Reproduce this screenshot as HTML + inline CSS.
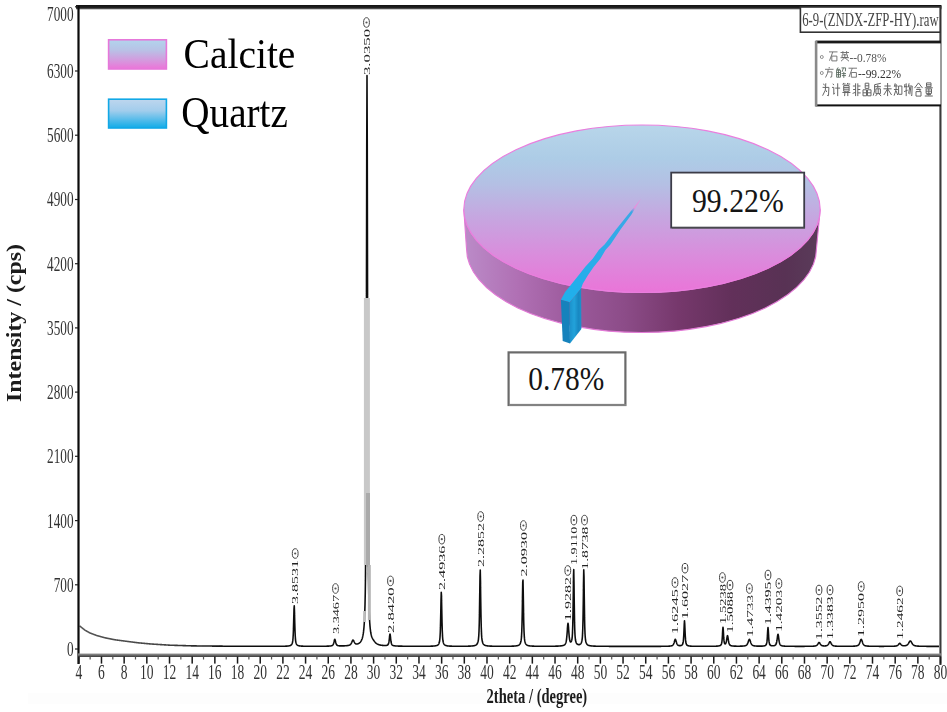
<!DOCTYPE html>
<html><head><meta charset="utf-8"><style>
html,body{margin:0;padding:0;background:#fff;}
svg{display:block;}
</style></head><body>
<svg width="947" height="712" viewBox="0 0 947 712">
<defs>
<linearGradient id="gTop" x1="0" y1="125" x2="0" y2="293" gradientUnits="userSpaceOnUse">
 <stop offset="0" stop-color="#b8d6ea"/>
 <stop offset="0.2" stop-color="#adcce6"/>
 <stop offset="0.35" stop-color="#b4c0e4"/>
 <stop offset="0.55" stop-color="#c6a6e0"/>
 <stop offset="0.78" stop-color="#da8cdc"/>
 <stop offset="1" stop-color="#ea74d8"/>
</linearGradient>
<linearGradient id="gWall" x1="464" y1="0" x2="821" y2="0" gradientUnits="userSpaceOnUse">
 <stop offset="0" stop-color="#bb8bc8"/>
 <stop offset="0.15" stop-color="#b070b4"/>
 <stop offset="0.3" stop-color="#9c5a9c"/>
 <stop offset="0.45" stop-color="#8c4c88"/>
 <stop offset="0.6" stop-color="#76386c"/>
 <stop offset="0.75" stop-color="#62305a"/>
 <stop offset="0.9" stop-color="#583254"/>
 <stop offset="1" stop-color="#5a3c5a"/>
</linearGradient>
<linearGradient id="gCal" x1="0" y1="0" x2="0" y2="1">
 <stop offset="0" stop-color="#b2d4ec"/>
 <stop offset="0.35" stop-color="#b8c2e6"/>
 <stop offset="0.7" stop-color="#d49ade"/>
 <stop offset="1" stop-color="#ec74d8"/>
</linearGradient>
<linearGradient id="gQua" x1="0" y1="0" x2="0" y2="1">
 <stop offset="0" stop-color="#bed6ee"/>
 <stop offset="0.4" stop-color="#a2cdec"/>
 <stop offset="1" stop-color="#10ace8"/>
</linearGradient>
<filter id="bl" x="-5%" y="-5%" width="110%" height="110%"><feGaussianBlur stdDeviation="0.45"/></filter>
<filter id="tb" x="-5%" y="-5%" width="110%" height="110%"><feGaussianBlur stdDeviation="0.6"/></filter>
<filter id="bl2" x="-5%" y="-5%" width="110%" height="110%"><feGaussianBlur stdDeviation="0.3"/></filter>
</defs>
<rect width="947" height="712" fill="#fff"/>
<rect x="28" y="693" width="919" height="11" fill="#fdfdfd"/>
<linearGradient id="gTr" x1="79" y1="0" x2="940" y2="0" gradientUnits="userSpaceOnUse"><stop offset="0" stop-color="#555"/><stop offset="0.1" stop-color="#444"/><stop offset="0.17" stop-color="#111"/><stop offset="1" stop-color="#111"/></linearGradient>
<path d="M79.50,625.80 L79.75,626.00 L80.00,626.20 L80.25,626.40 L80.50,626.60 L80.75,626.80 L81.00,627.00 L81.25,627.20 L81.50,627.40 L81.75,627.60 L82.00,627.80 L82.25,628.00 L82.50,628.20 L82.75,628.40 L83.00,628.60 L83.25,628.80 L83.50,629.00 L83.75,629.20 L84.00,629.40 L84.25,629.60 L84.50,629.80 L84.75,630.00 L85.00,630.20 L85.25,630.34 L85.50,630.48 L85.75,630.62 L86.00,630.76 L86.25,630.90 L86.50,631.04 L86.75,631.18 L87.00,631.32 L87.25,631.46 L87.50,631.60 L87.75,631.74 L88.00,631.88 L88.25,632.02 L88.50,632.16 L88.75,632.30 L89.00,632.44 L89.25,632.58 L89.50,632.72 L89.75,632.86 L90.00,633.00 L90.25,633.09 L90.50,633.18 L90.75,633.27 L91.00,633.37 L91.25,633.46 L91.50,633.55 L91.75,633.65 L92.00,633.74 L92.25,633.83 L92.50,633.92 L92.75,634.02 L93.00,634.11 L93.25,634.20 L93.50,634.30 L93.75,634.39 L94.00,634.48 L94.25,634.57 L94.50,634.67 L94.75,634.76 L95.00,634.85 L95.25,634.95 L95.50,635.04 L95.75,635.13 L96.00,635.22 L96.25,635.32 L96.50,635.41 L96.75,635.50 L97.00,635.60 L97.25,635.66 L97.50,635.73 L97.75,635.80 L98.00,635.87 L98.25,635.94 L98.50,636.01 L98.75,636.08 L99.00,636.15 L99.25,636.21 L99.50,636.28 L99.75,636.35 L100.00,636.42 L100.25,636.49 L100.50,636.56 L100.75,636.63 L101.00,636.70 L101.25,636.76 L101.50,636.83 L101.75,636.90 L102.00,636.97 L102.25,637.04 L102.50,637.11 L102.75,637.18 L103.00,637.25 L103.25,637.31 L103.50,637.38 L103.75,637.45 L104.00,637.52 L104.25,637.59 L104.50,637.66 L104.75,637.73 L105.00,637.80 L105.25,637.85 L105.50,637.90 L105.75,637.95 L106.00,638.00 L106.25,638.05 L106.50,638.10 L106.75,638.15 L107.00,638.20 L107.25,638.25 L107.50,638.30 L107.75,638.35 L108.00,638.40 L108.25,638.45 L108.50,638.50 L108.75,638.55 L109.00,638.60 L109.25,638.65 L109.50,638.70 L109.75,638.75 L110.00,638.80 L110.25,638.85 L110.50,638.90 L110.75,638.95 L111.00,639.00 L111.25,639.05 L111.50,639.10 L111.75,639.15 L112.00,639.20 L112.25,639.25 L112.50,639.30 L112.75,639.35 L113.00,639.40 L113.25,639.45 L113.50,639.50 L113.75,639.55 L114.00,639.60 L114.25,639.65 L114.50,639.70 L114.75,639.75 L115.00,639.80 L115.25,639.83 L115.50,639.86 L115.75,639.89 L116.00,639.93 L116.25,639.96 L116.50,639.99 L116.75,640.02 L117.00,640.06 L117.25,640.09 L117.50,640.12 L117.75,640.15 L118.00,640.19 L118.25,640.22 L118.50,640.25 L118.75,640.29 L119.00,640.32 L119.25,640.35 L119.50,640.38 L119.75,640.42 L120.00,640.45 L120.25,640.48 L120.50,640.51 L120.75,640.55 L121.00,640.58 L121.25,640.61 L121.50,640.65 L121.75,640.68 L122.00,640.71 L122.25,640.74 L122.50,640.78 L122.75,640.81 L123.00,640.84 L123.25,640.87 L123.50,640.91 L123.75,640.94 L124.00,640.97 L124.25,641.01 L124.50,641.04 L124.75,641.07 L125.00,641.10 L125.25,641.14 L125.50,641.17 L125.75,641.20 L126.00,641.23 L126.25,641.27 L126.50,641.30 L126.75,641.33 L127.00,641.36 L127.25,641.40 L127.50,641.43 L127.75,641.46 L128.00,641.49 L128.25,641.53 L128.50,641.56 L128.75,641.59 L129.00,641.62 L129.25,641.66 L129.50,641.69 L129.75,641.72 L130.00,641.75 L130.25,641.79 L130.50,641.82 L130.75,641.85 L131.00,641.88 L131.25,641.92 L131.50,641.95 L131.75,641.98 L132.00,642.01 L132.25,642.05 L132.50,642.08 L132.75,642.11 L133.00,642.14 L133.25,642.18 L133.50,642.21 L133.75,642.24 L134.00,642.27 L134.25,642.31 L134.50,642.34 L134.75,642.37 L135.00,642.40 L135.25,642.44 L135.50,642.47 L135.75,642.50 L136.00,642.53 L136.25,642.57 L136.50,642.60 L136.75,642.63 L137.00,642.66 L137.25,642.70 L137.50,642.73 L137.75,642.76 L138.00,642.79 L138.25,642.82 L138.50,642.84 L138.75,642.86 L139.00,642.89 L139.25,642.91 L139.50,642.93 L139.75,642.96 L140.00,642.98 L140.25,643.00 L140.50,643.02 L140.75,643.05 L141.00,643.07 L141.25,643.09 L141.50,643.12 L141.75,643.14 L142.00,643.16 L142.25,643.19 L142.50,643.21 L142.75,643.23 L143.00,643.26 L143.25,643.28 L143.50,643.30 L143.75,643.32 L144.00,643.35 L144.25,643.37 L144.50,643.39 L144.75,643.42 L145.00,643.44 L145.25,643.46 L145.50,643.49 L145.75,643.51 L146.00,643.53 L146.25,643.56 L146.50,643.58 L146.75,643.60 L147.00,643.62 L147.25,643.65 L147.50,643.67 L147.75,643.69 L148.00,643.72 L148.25,643.74 L148.50,643.76 L148.75,643.79 L149.00,643.81 L149.25,643.83 L149.50,643.86 L149.75,643.88 L150.00,643.90 L150.25,643.92 L150.50,643.95 L150.75,643.97 L151.00,643.99 L151.25,644.01 L151.50,644.03 L151.75,644.04 L152.00,644.06 L152.25,644.07 L152.50,644.09 L152.75,644.10 L153.00,644.12 L153.25,644.14 L153.50,644.15 L153.75,644.17 L154.00,644.18 L154.25,644.20 L154.50,644.21 L154.75,644.23 L155.00,644.25 L155.25,644.26 L155.50,644.28 L155.75,644.29 L156.00,644.31 L156.25,644.32 L156.50,644.34 L156.75,644.36 L157.00,644.37 L157.25,644.39 L157.50,644.40 L157.75,644.42 L158.00,644.44 L158.25,644.45 L158.50,644.47 L158.75,644.48 L159.00,644.50 L159.25,644.51 L159.50,644.53 L159.75,644.55 L160.00,644.56 L160.25,644.58 L160.50,644.59 L160.75,644.61 L161.00,644.62 L161.25,644.64 L161.50,644.66 L161.75,644.67 L162.00,644.69 L162.25,644.70 L162.50,644.72 L162.75,644.73 L163.00,644.75 L163.25,644.77 L163.50,644.78 L163.75,644.80 L164.00,644.81 L164.25,644.83 L164.50,644.85 L164.75,644.86 L165.00,644.88 L165.25,644.89 L165.50,644.91 L165.75,644.92 L166.00,644.94 L166.25,644.96 L166.50,644.97 L166.75,644.99 L167.00,645.00 L167.25,645.02 L167.50,645.03 L167.75,645.05 L168.00,645.07 L168.25,645.08 L168.50,645.10 L168.75,645.11 L169.00,645.13 L169.25,645.14 L169.50,645.16 L169.75,645.18 L170.00,645.19 L170.25,645.20 L170.50,645.21 L170.75,645.22 L171.00,645.22 L171.25,645.23 L171.50,645.24 L171.75,645.25 L172.00,645.25 L172.25,645.26 L172.50,645.27 L172.75,645.28 L173.00,645.28 L173.25,645.29 L173.50,645.30 L173.75,645.31 L174.00,645.31 L174.25,645.32 L174.50,645.33 L174.75,645.34 L175.00,645.34 L175.25,645.35 L175.50,645.36 L175.75,645.37 L176.00,645.37 L176.25,645.38 L176.50,645.39 L176.75,645.40 L177.00,645.40 L177.25,645.41 L177.50,645.42 L177.75,645.43 L178.00,645.44 L178.25,645.44 L178.50,645.45 L178.75,645.46 L179.00,645.47 L179.25,645.47 L179.50,645.48 L179.75,645.49 L180.00,645.50 L180.25,645.50 L180.50,645.51 L180.75,645.52 L181.00,645.53 L181.25,645.53 L181.50,645.54 L181.75,645.55 L182.00,645.56 L182.25,645.56 L182.50,645.57 L182.75,645.58 L183.00,645.59 L183.25,645.59 L183.50,645.60 L183.75,645.61 L184.00,645.62 L184.25,645.62 L184.50,645.63 L184.75,645.64 L185.00,645.65 L185.25,645.66 L185.50,645.66 L185.75,645.67 L186.00,645.68 L186.25,645.69 L186.50,645.69 L186.75,645.70 L187.00,645.71 L187.25,645.72 L187.50,645.72 L187.75,645.73 L188.00,645.74 L188.25,645.75 L188.50,645.75 L188.75,645.76 L189.00,645.77 L189.25,645.78 L189.50,645.78 L189.75,645.79 L190.00,645.80 L190.25,645.81 L190.50,645.81 L190.75,645.82 L191.00,645.83 L191.25,645.84 L191.50,645.84 L191.75,645.85 L192.00,645.86 L192.25,645.87 L192.50,645.87 L192.75,645.88 L193.00,645.89 L193.25,645.89 L193.50,645.89 L193.75,645.90 L194.00,645.90 L194.25,645.90 L194.50,645.90 L194.75,645.91 L195.00,645.91 L195.25,645.91 L195.50,645.91 L195.75,645.92 L196.00,645.92 L196.25,645.92 L196.50,645.92 L196.75,645.93 L197.00,645.93 L197.25,645.93 L197.50,645.93 L197.75,645.94 L198.00,645.94 L198.25,645.94 L198.50,645.94 L198.75,645.95 L199.00,645.95 L199.25,645.95 L199.50,645.95 L199.75,645.96 L200.00,645.96 L200.25,645.96 L200.50,645.96 L200.75,645.96 L201.00,645.97 L201.25,645.97 L201.50,645.97 L201.75,645.97 L202.00,645.98 L202.25,645.98 L202.50,645.98 L202.75,645.98 L203.00,645.99 L203.25,645.99 L203.50,645.99 L203.75,645.99 L204.00,646.00 L204.25,646.00 L204.50,646.00 L204.75,646.00 L205.00,646.01 L205.25,646.01 L205.50,646.01 L205.75,646.01 L206.00,646.02 L206.25,646.02 L206.50,646.02 L206.75,646.02 L207.00,646.02 L207.25,646.03 L207.50,646.03 L207.75,646.03 L208.00,646.03 L208.25,646.04 L208.50,646.04 L208.75,646.04 L209.00,646.04 L209.25,646.05 L209.50,646.05 L209.75,646.05 L210.00,646.05 L210.25,646.06 L210.50,646.06 L210.75,646.06 L211.00,646.06 L211.25,646.07 L211.50,646.07 L211.75,646.07 L212.00,646.07 L212.25,646.08 L212.50,646.08 L212.75,646.08 L213.00,646.08 L213.25,646.08 L213.50,646.09 L213.75,646.09 L214.00,646.09 L214.25,646.09 L214.50,646.10 L214.75,646.10 L215.00,646.10 L215.25,646.10 L215.50,646.11 L215.75,646.11 L216.00,646.11 L216.25,646.11 L216.50,646.12 L216.75,646.12 L217.00,646.12 L217.25,646.12 L217.50,646.13 L217.75,646.13 L218.00,646.13 L218.25,646.13 L218.50,646.13 L218.75,646.14 L219.00,646.14 L219.25,646.14 L219.50,646.14 L219.75,646.15 L220.00,646.15 L220.25,646.15 L220.50,646.15 L220.75,646.16 L221.00,646.16 L221.25,646.16 L221.50,646.16 L221.75,646.17 L222.00,646.17 L222.25,646.17 L222.50,646.17 L222.75,646.18 L223.00,646.18 L223.25,646.18 L223.50,646.18 L223.75,646.19 L224.00,646.19 L224.25,646.19 L224.50,646.19 L224.75,646.19 L225.00,646.20 L225.25,646.20 L225.50,646.20 L225.75,646.20 L226.00,646.21 L226.25,646.21 L226.50,646.21 L226.75,646.21 L227.00,646.22 L227.25,646.22 L227.50,646.22 L227.75,646.22 L228.00,646.23 L228.25,646.23 L228.50,646.23 L228.75,646.23 L229.00,646.23 L229.25,646.24 L229.50,646.24 L229.75,646.24 L230.00,646.24 L230.25,646.25 L230.50,646.25 L230.75,646.25 L231.00,646.25 L231.25,646.26 L231.50,646.26 L231.75,646.26 L232.00,646.26 L232.25,646.27 L232.50,646.27 L232.75,646.27 L233.00,646.27 L233.25,646.28 L233.50,646.28 L233.75,646.28 L234.00,646.28 L234.25,646.28 L234.50,646.28 L234.75,646.28 L235.00,646.28 L235.25,646.28 L235.50,646.28 L235.75,646.28 L236.00,646.28 L236.25,646.28 L236.50,646.29 L236.75,646.29 L237.00,646.29 L237.25,646.29 L237.50,646.29 L237.75,646.29 L238.00,646.29 L238.25,646.29 L238.50,646.29 L238.75,646.29 L239.00,646.29 L239.25,646.29 L239.50,646.29 L239.75,646.29 L240.00,646.29 L240.25,646.29 L240.50,646.29 L240.75,646.29 L241.00,646.29 L241.25,646.29 L241.50,646.29 L241.75,646.29 L242.00,646.29 L242.25,646.29 L242.50,646.29 L242.75,646.29 L243.00,646.29 L243.25,646.29 L243.50,646.29 L243.75,646.29 L244.00,646.29 L244.25,646.29 L244.50,646.29 L244.75,646.29 L245.00,646.29 L245.25,646.29 L245.50,646.30 L245.75,646.30 L246.00,646.30 L246.25,646.30 L246.50,646.30 L246.75,646.30 L247.00,646.30 L247.25,646.30 L247.50,646.30 L247.75,646.30 L248.00,646.30 L248.25,646.30 L248.50,646.30 L248.75,646.30 L249.00,646.30 L249.25,646.30 L249.50,646.30 L249.75,646.30 L250.00,646.30 L250.25,646.30 L250.50,646.30 L250.75,646.30 L251.00,646.30 L251.25,646.30 L251.50,646.30 L251.75,646.30 L252.00,646.30 L252.25,646.30 L252.50,646.30 L252.75,646.30 L253.00,646.30 L253.25,646.30 L253.50,646.30 L253.75,646.30 L254.00,646.30 L254.25,646.30 L254.50,646.30 L254.75,646.30 L255.00,646.30 L255.25,646.30 L255.50,646.30 L255.75,646.30 L256.00,646.30 L256.25,646.30 L256.50,646.30 L256.75,646.30 L257.00,646.31 L257.25,646.31 L257.50,646.31 L257.75,646.31 L258.00,646.31 L258.25,646.31 L258.50,646.31 L258.75,646.31 L259.00,646.31 L259.25,646.31 L259.50,646.31 L259.75,646.31 L260.00,646.31 L260.25,646.31 L260.50,646.31 L260.75,646.31 L261.00,646.31 L261.25,646.31 L261.50,646.31 L261.75,646.31 L262.00,646.31 L262.25,646.31 L262.50,646.31 L262.75,646.31 L263.00,646.31 L263.25,646.31 L263.50,646.31 L263.75,646.31 L264.00,646.31 L264.25,646.31 L264.50,646.31 L264.75,646.31 L265.00,646.31 L265.25,646.31 L265.50,646.31 L265.75,646.31 L266.00,646.31 L266.25,646.31 L266.50,646.31 L266.75,646.31 L267.00,646.31 L267.25,646.31 L267.50,646.31 L267.75,646.31 L268.00,646.31 L268.25,646.31 L268.50,646.31 L268.75,646.31 L269.00,646.31 L269.25,646.31 L269.50,646.31 L269.75,646.31 L270.00,646.31 L270.25,646.31 L270.50,646.31 L270.75,646.31 L271.00,646.31 L271.25,646.31 L271.50,646.31 L271.75,646.30 L272.00,646.30 L272.25,646.30 L272.50,646.30 L272.75,646.30 L273.00,646.30 L273.25,646.30 L273.50,646.30 L273.75,646.30 L274.00,646.30 L274.25,646.30 L274.50,646.30 L274.75,646.30 L275.00,646.30 L275.25,646.30 L275.50,646.30 L275.75,646.30 L276.00,646.30 L276.25,646.29 L276.50,646.29 L276.75,646.29 L277.00,646.29 L277.25,646.29 L277.50,646.29 L277.75,646.29 L278.00,646.29 L278.25,646.29 L278.50,646.28 L278.75,646.28 L279.00,646.28 L279.25,646.28 L279.50,646.28 L279.75,646.28 L280.00,646.27 L280.25,646.27 L280.50,646.27 L280.75,646.27 L281.00,646.26 L281.25,646.26 L281.50,646.26 L281.75,646.26 L282.00,646.25 L282.25,646.25 L282.50,646.25 L282.75,646.24 L283.00,646.24 L283.25,646.23 L283.50,646.23 L283.75,646.22 L284.00,646.22 L284.25,646.21 L284.50,646.20 L284.75,646.20 L285.00,646.19 L285.25,646.18 L285.50,646.17 L285.75,646.16 L286.00,646.15 L286.25,646.14 L286.50,646.13 L286.75,646.11 L287.00,646.10 L287.25,646.08 L287.50,646.06 L287.75,646.04 L288.00,646.01 L288.25,645.98 L288.50,645.95 L288.75,645.92 L289.00,645.87 L289.25,645.83 L289.50,645.77 L289.75,645.71 L290.00,645.63 L290.25,645.54 L290.50,645.43 L290.75,645.30 L291.00,645.14 L291.25,644.93 L291.50,644.67 L291.75,644.34 L292.00,643.89 L292.25,643.27 L292.50,642.36 L292.75,640.92 L293.00,638.46 L293.25,634.30 L293.50,627.66 L293.75,618.42 L294.00,608.94 L294.25,605.88 L294.50,612.41 L294.75,622.37 L295.00,630.65 L295.25,636.22 L295.50,639.61 L295.75,641.58 L296.00,642.78 L296.25,643.55 L296.50,644.09 L296.75,644.48 L297.00,644.79 L297.25,645.02 L297.50,645.21 L297.75,645.36 L298.00,645.48 L298.25,645.58 L298.50,645.66 L298.75,645.74 L299.00,645.80 L299.25,645.85 L299.50,645.89 L299.75,645.93 L300.00,645.97 L300.25,646.00 L300.50,646.02 L300.75,646.05 L301.00,646.07 L301.25,646.09 L301.50,646.10 L301.75,646.12 L302.00,646.13 L302.25,646.14 L302.50,646.16 L302.75,646.17 L303.00,646.17 L303.25,646.18 L303.50,646.19 L303.75,646.20 L304.00,646.20 L304.25,646.21 L304.50,646.22 L304.75,646.22 L305.00,646.23 L305.25,646.23 L305.50,646.23 L305.75,646.24 L306.00,646.24 L306.25,646.24 L306.50,646.25 L306.75,646.25 L307.00,646.25 L307.25,646.26 L307.50,646.26 L307.75,646.26 L308.00,646.26 L308.25,646.26 L308.50,646.26 L308.75,646.27 L309.00,646.27 L309.25,646.27 L309.50,646.27 L309.75,646.27 L310.00,646.27 L310.25,646.27 L310.50,646.27 L310.75,646.27 L311.00,646.27 L311.25,646.27 L311.50,646.28 L311.75,646.28 L312.00,646.28 L312.25,646.28 L312.50,646.28 L312.75,646.28 L313.00,646.28 L313.25,646.28 L313.50,646.28 L313.75,646.28 L314.00,646.28 L314.25,646.28 L314.50,646.28 L314.75,646.28 L315.00,646.27 L315.25,646.27 L315.50,646.27 L315.75,646.27 L316.00,646.27 L316.25,646.27 L316.50,646.27 L316.75,646.27 L317.00,646.27 L317.25,646.27 L317.50,646.27 L317.75,646.27 L318.00,646.27 L318.25,646.27 L318.50,646.26 L318.75,646.26 L319.00,646.26 L319.25,646.26 L319.50,646.26 L319.75,646.26 L320.00,646.26 L320.25,646.26 L320.50,646.25 L320.75,646.25 L321.00,646.25 L321.25,646.25 L321.50,646.25 L321.75,646.24 L322.00,646.24 L322.25,646.24 L322.50,646.24 L322.75,646.24 L323.00,646.23 L323.25,646.23 L323.50,646.23 L323.75,646.22 L324.00,646.22 L324.25,646.22 L324.50,646.21 L324.75,646.21 L325.00,646.21 L325.25,646.20 L325.50,646.20 L325.75,646.19 L326.00,646.19 L326.25,646.18 L326.50,646.18 L326.75,646.17 L327.00,646.17 L327.25,646.16 L327.50,646.15 L327.75,646.14 L328.00,646.13 L328.25,646.12 L328.50,646.11 L328.75,646.10 L329.00,646.09 L329.25,646.07 L329.50,646.05 L329.75,646.03 L330.00,646.01 L330.25,645.99 L330.50,645.96 L330.75,645.92 L331.00,645.88 L331.25,645.83 L331.50,645.78 L331.75,645.71 L332.00,645.62 L332.25,645.50 L332.50,645.34 L332.75,645.11 L333.00,644.79 L333.25,644.35 L333.50,643.73 L333.75,642.92 L334.00,641.92 L334.25,640.81 L334.50,639.81 L334.75,639.29 L335.00,639.52 L335.25,640.37 L335.50,641.46 L335.75,642.52 L336.00,643.40 L336.25,644.08 L336.50,644.58 L336.75,644.94 L337.00,645.19 L337.25,645.37 L337.50,645.49 L337.75,645.59 L338.00,645.66 L338.25,645.71 L338.50,645.76 L338.75,645.79 L339.00,645.82 L339.25,645.84 L339.50,645.86 L339.75,645.88 L340.00,645.89 L340.25,645.90 L340.50,645.90 L340.75,645.91 L341.00,645.91 L341.25,645.91 L341.50,645.91 L341.75,645.91 L342.00,645.91 L342.25,645.91 L342.50,645.90 L342.75,645.90 L343.00,645.89 L343.25,645.89 L343.50,645.88 L343.75,645.87 L344.00,645.86 L344.25,645.85 L344.50,645.84 L344.75,645.82 L345.00,645.81 L345.25,645.79 L345.50,645.78 L345.75,645.76 L346.00,645.74 L346.25,645.72 L346.50,645.69 L346.75,645.67 L347.00,645.64 L347.25,645.61 L347.50,645.58 L347.75,645.54 L348.00,645.50 L348.25,645.45 L348.50,645.40 L348.75,645.34 L349.00,645.27 L349.25,645.19 L349.50,645.09 L349.75,644.97 L350.00,644.82 L350.25,644.63 L350.50,644.41 L350.75,644.12 L351.00,643.78 L351.25,643.37 L351.50,642.89 L351.75,642.34 L352.00,641.74 L352.25,641.13 L352.50,640.58 L352.75,640.18 L353.00,640.02 L353.25,640.12 L353.50,640.45 L353.75,640.93 L354.00,641.47 L354.25,642.00 L354.50,642.48 L354.75,642.89 L355.00,643.23 L355.25,643.49 L355.50,643.70 L355.75,643.84 L356.00,643.94 L356.25,644.00 L356.50,644.03 L356.75,644.03 L357.00,644.01 L357.25,643.97 L357.50,643.92 L357.75,643.85 L358.00,643.76 L358.25,643.66 L358.50,643.54 L358.75,643.41 L359.00,643.26 L359.25,643.09 L359.50,642.91 L359.75,642.70 L360.00,642.46 L360.25,642.20 L360.50,641.90 L360.75,641.56 L361.00,641.18 L361.25,640.75 L361.50,640.26 L361.75,639.70 L362.00,639.05 L362.25,638.29 L362.50,637.41 L362.75,636.38 L363.00,635.15 L363.25,633.68 L363.50,631.89 L363.75,629.69 L364.00,626.96 L364.25,623.50 L364.50,619.04 L364.75,613.14 L365.00,605.04 L365.25,593.30 L365.50,574.91 L365.75,544.04 L366.00,491.36 L366.25,405.88 L366.50,282.64 L366.75,144.63 L367.00,75.58 L367.25,144.58 L367.50,282.53 L367.75,405.72 L368.00,491.13 L368.25,543.75 L368.50,574.55 L368.75,592.88 L369.00,604.55 L369.25,612.56 L369.50,618.37 L369.75,622.75 L370.00,626.11 L370.25,628.74 L370.50,630.82 L370.75,632.50 L371.00,633.86 L371.25,634.97 L371.50,635.90 L371.75,636.67 L372.00,637.33 L372.25,637.90 L372.50,638.40 L372.75,638.86 L373.00,639.28 L373.25,639.68 L373.50,640.06 L373.75,640.43 L374.00,640.78 L374.25,641.12 L374.50,641.45 L374.75,641.76 L375.00,642.06 L375.25,642.34 L375.50,642.60 L375.75,642.84 L376.00,643.07 L376.25,643.28 L376.50,643.47 L376.75,643.65 L377.00,643.82 L377.25,643.97 L377.50,644.11 L377.75,644.23 L378.00,644.35 L378.25,644.46 L378.50,644.55 L378.75,644.64 L379.00,644.73 L379.25,644.80 L379.50,644.87 L379.75,644.93 L380.00,644.99 L380.25,645.05 L380.50,645.10 L380.75,645.14 L381.00,645.19 L381.25,645.22 L381.50,645.26 L381.75,645.29 L382.00,645.33 L382.25,645.35 L382.50,645.38 L382.75,645.40 L383.00,645.42 L383.25,645.44 L383.50,645.46 L383.75,645.47 L384.00,645.48 L384.25,645.49 L384.50,645.50 L384.75,645.50 L385.00,645.50 L385.25,645.50 L385.50,645.49 L385.75,645.47 L386.00,645.45 L386.25,645.42 L386.50,645.38 L386.75,645.33 L387.00,645.26 L387.25,645.17 L387.50,645.04 L387.75,644.87 L388.00,644.63 L388.25,644.25 L388.50,643.67 L388.75,642.77 L389.00,641.42 L389.25,639.54 L389.50,637.21 L389.75,634.98 L390.00,633.99 L390.25,634.99 L390.50,637.24 L390.75,639.59 L391.00,641.49 L391.25,642.86 L391.50,643.78 L391.75,644.38 L392.00,644.77 L392.25,645.03 L392.50,645.22 L392.75,645.37 L393.00,645.48 L393.25,645.57 L393.50,645.64 L393.75,645.70 L394.00,645.75 L394.25,645.79 L394.50,645.83 L394.75,645.86 L395.00,645.89 L395.25,645.92 L395.50,645.94 L395.75,645.96 L396.00,645.98 L396.25,645.99 L396.50,646.01 L396.75,646.02 L397.00,646.04 L397.25,646.05 L397.50,646.06 L397.75,646.07 L398.00,646.08 L398.25,646.09 L398.50,646.09 L398.75,646.10 L399.00,646.11 L399.25,646.12 L399.50,646.12 L399.75,646.13 L400.00,646.13 L400.25,646.14 L400.50,646.14 L400.75,646.15 L401.00,646.15 L401.25,646.16 L401.50,646.16 L401.75,646.17 L402.00,646.17 L402.25,646.17 L402.50,646.18 L402.75,646.18 L403.00,646.19 L403.25,646.19 L403.50,646.19 L403.75,646.19 L404.00,646.20 L404.25,646.20 L404.50,646.20 L404.75,646.21 L405.00,646.21 L405.25,646.21 L405.50,646.21 L405.75,646.22 L406.00,646.22 L406.25,646.22 L406.50,646.22 L406.75,646.22 L407.00,646.23 L407.25,646.23 L407.50,646.23 L407.75,646.23 L408.00,646.23 L408.25,646.24 L408.50,646.24 L408.75,646.24 L409.00,646.24 L409.25,646.24 L409.50,646.24 L409.75,646.24 L410.00,646.25 L410.25,646.25 L410.50,646.25 L410.75,646.25 L411.00,646.25 L411.25,646.25 L411.50,646.25 L411.75,646.25 L412.00,646.26 L412.25,646.26 L412.50,646.26 L412.75,646.26 L413.00,646.26 L413.25,646.26 L413.50,646.26 L413.75,646.26 L414.00,646.26 L414.25,646.26 L414.50,646.26 L414.75,646.26 L415.00,646.26 L415.25,646.27 L415.50,646.27 L415.75,646.27 L416.00,646.27 L416.25,646.27 L416.50,646.27 L416.75,646.27 L417.00,646.27 L417.25,646.27 L417.50,646.27 L417.75,646.27 L418.00,646.27 L418.25,646.27 L418.50,646.27 L418.75,646.27 L419.00,646.27 L419.25,646.27 L419.50,646.27 L419.75,646.27 L420.00,646.27 L420.25,646.27 L420.50,646.27 L420.75,646.27 L421.00,646.27 L421.25,646.27 L421.50,646.27 L421.75,646.27 L422.00,646.27 L422.25,646.27 L422.50,646.27 L422.75,646.26 L423.00,646.26 L423.25,646.26 L423.50,646.26 L423.75,646.26 L424.00,646.26 L424.25,646.26 L424.50,646.26 L424.75,646.26 L425.00,646.25 L425.25,646.25 L425.50,646.25 L425.75,646.25 L426.00,646.25 L426.25,646.25 L426.50,646.24 L426.75,646.24 L427.00,646.24 L427.25,646.24 L427.50,646.23 L427.75,646.23 L428.00,646.23 L428.25,646.22 L428.50,646.22 L428.75,646.22 L429.00,646.21 L429.25,646.21 L429.50,646.20 L429.75,646.20 L430.00,646.19 L430.25,646.19 L430.50,646.18 L430.75,646.17 L431.00,646.17 L431.25,646.16 L431.50,646.15 L431.75,646.14 L432.00,646.13 L432.25,646.12 L432.50,646.11 L432.75,646.10 L433.00,646.08 L433.25,646.07 L433.50,646.05 L433.75,646.03 L434.00,646.01 L434.25,645.99 L434.50,645.96 L434.75,645.94 L435.00,645.90 L435.25,645.87 L435.50,645.83 L435.75,645.78 L436.00,645.73 L436.25,645.67 L436.50,645.60 L436.75,645.52 L437.00,645.42 L437.25,645.31 L437.50,645.18 L437.75,645.01 L438.00,644.81 L438.25,644.56 L438.50,644.25 L438.75,643.85 L439.00,643.32 L439.25,642.59 L439.50,641.56 L439.75,639.97 L440.00,637.33 L440.25,632.80 L440.50,625.35 L440.75,614.28 L441.00,600.97 L441.25,592.23 L441.50,596.33 L441.75,609.00 L442.00,621.36 L442.25,630.23 L442.50,635.80 L442.75,639.08 L443.00,641.01 L443.25,642.23 L443.50,643.06 L443.75,643.65 L444.00,644.10 L444.25,644.45 L444.50,644.72 L444.75,644.94 L445.00,645.11 L445.25,645.26 L445.50,645.38 L445.75,645.48 L446.00,645.57 L446.25,645.64 L446.50,645.71 L446.75,645.76 L447.00,645.81 L447.25,645.85 L447.50,645.89 L447.75,645.92 L448.00,645.95 L448.25,645.98 L448.50,646.00 L448.75,646.03 L449.00,646.04 L449.25,646.06 L449.50,646.08 L449.75,646.09 L450.00,646.11 L450.25,646.12 L450.50,646.13 L450.75,646.14 L451.00,646.15 L451.25,646.16 L451.50,646.17 L451.75,646.17 L452.00,646.18 L452.25,646.19 L452.50,646.19 L452.75,646.20 L453.00,646.20 L453.25,646.21 L453.50,646.21 L453.75,646.22 L454.00,646.22 L454.25,646.22 L454.50,646.23 L454.75,646.23 L455.00,646.23 L455.25,646.23 L455.50,646.24 L455.75,646.24 L456.00,646.24 L456.25,646.24 L456.50,646.24 L456.75,646.25 L457.00,646.25 L457.25,646.25 L457.50,646.25 L457.75,646.25 L458.00,646.25 L458.25,646.25 L458.50,646.25 L458.75,646.25 L459.00,646.25 L459.25,646.25 L459.50,646.25 L459.75,646.25 L460.00,646.25 L460.25,646.25 L460.50,646.25 L460.75,646.25 L461.00,646.25 L461.25,646.25 L461.50,646.25 L461.75,646.25 L462.00,646.25 L462.25,646.25 L462.50,646.25 L462.75,646.25 L463.00,646.25 L463.25,646.24 L463.50,646.24 L463.75,646.24 L464.00,646.24 L464.25,646.24 L464.50,646.23 L464.75,646.23 L465.00,646.23 L465.25,646.23 L465.50,646.22 L465.75,646.22 L466.00,646.22 L466.25,646.21 L466.50,646.21 L466.75,646.20 L467.00,646.20 L467.25,646.19 L467.50,646.19 L467.75,646.18 L468.00,646.18 L468.25,646.17 L468.50,646.16 L468.75,646.16 L469.00,646.15 L469.25,646.14 L469.50,646.13 L469.75,646.12 L470.00,646.11 L470.25,646.10 L470.50,646.09 L470.75,646.07 L471.00,646.06 L471.25,646.04 L471.50,646.03 L471.75,646.01 L472.00,645.99 L472.25,645.97 L472.50,645.94 L472.75,645.91 L473.00,645.88 L473.25,645.85 L473.50,645.81 L473.75,645.77 L474.00,645.72 L474.25,645.67 L474.50,645.61 L474.75,645.54 L475.00,645.46 L475.25,645.37 L475.50,645.27 L475.75,645.15 L476.00,645.00 L476.25,644.83 L476.50,644.63 L476.75,644.38 L477.00,644.07 L477.25,643.69 L477.50,643.20 L477.75,642.57 L478.00,641.73 L478.25,640.56 L478.50,638.85 L478.75,636.12 L479.00,631.50 L479.25,623.65 L479.50,611.13 L479.75,593.71 L480.00,575.84 L480.25,570.07 L480.50,582.39 L480.75,601.16 L481.00,616.77 L481.25,627.27 L481.50,633.65 L481.75,637.38 L482.00,639.62 L482.25,641.08 L482.50,642.09 L482.75,642.84 L483.00,643.41 L483.25,643.85 L483.50,644.20 L483.75,644.49 L484.00,644.72 L484.25,644.91 L484.50,645.07 L484.75,645.20 L485.00,645.32 L485.25,645.41 L485.50,645.50 L485.75,645.57 L486.00,645.64 L486.25,645.69 L486.50,645.75 L486.75,645.79 L487.00,645.83 L487.25,645.87 L487.50,645.90 L487.75,645.93 L488.00,645.95 L488.25,645.98 L488.50,646.00 L488.75,646.02 L489.00,646.04 L489.25,646.05 L489.50,646.07 L489.75,646.08 L490.00,646.10 L490.25,646.11 L490.50,646.12 L490.75,646.13 L491.00,646.14 L491.25,646.15 L491.50,646.16 L491.75,646.17 L492.00,646.17 L492.25,646.18 L492.50,646.19 L492.75,646.19 L493.00,646.20 L493.25,646.20 L493.50,646.21 L493.75,646.21 L494.00,646.22 L494.25,646.22 L494.50,646.22 L494.75,646.23 L495.00,646.23 L495.25,646.23 L495.50,646.24 L495.75,646.24 L496.00,646.24 L496.25,646.25 L496.50,646.25 L496.75,646.25 L497.00,646.25 L497.25,646.25 L497.50,646.26 L497.75,646.26 L498.00,646.26 L498.25,646.26 L498.50,646.26 L498.75,646.26 L499.00,646.26 L499.25,646.27 L499.50,646.27 L499.75,646.27 L500.00,646.27 L500.25,646.27 L500.50,646.27 L500.75,646.27 L501.00,646.27 L501.25,646.27 L501.50,646.27 L501.75,646.27 L502.00,646.27 L502.25,646.27 L502.50,646.27 L502.75,646.27 L503.00,646.27 L503.25,646.27 L503.50,646.27 L503.75,646.27 L504.00,646.27 L504.25,646.27 L504.50,646.27 L504.75,646.27 L505.00,646.26 L505.25,646.26 L505.50,646.26 L505.75,646.26 L506.00,646.26 L506.25,646.26 L506.50,646.26 L506.75,646.25 L507.00,646.25 L507.25,646.25 L507.50,646.25 L507.75,646.25 L508.00,646.24 L508.25,646.24 L508.50,646.24 L508.75,646.23 L509.00,646.23 L509.25,646.23 L509.50,646.22 L509.75,646.22 L510.00,646.21 L510.25,646.21 L510.50,646.20 L510.75,646.20 L511.00,646.19 L511.25,646.19 L511.50,646.18 L511.75,646.17 L512.00,646.17 L512.25,646.16 L512.50,646.15 L512.75,646.14 L513.00,646.13 L513.25,646.12 L513.50,646.11 L513.75,646.09 L514.00,646.08 L514.25,646.06 L514.50,646.05 L514.75,646.03 L515.00,646.01 L515.25,645.98 L515.50,645.96 L515.75,645.93 L516.00,645.90 L516.25,645.87 L516.50,645.83 L516.75,645.79 L517.00,645.74 L517.25,645.69 L517.50,645.63 L517.75,645.55 L518.00,645.47 L518.25,645.38 L518.50,645.27 L518.75,645.13 L519.00,644.98 L519.25,644.79 L519.50,644.56 L519.75,644.28 L520.00,643.92 L520.25,643.47 L520.50,642.88 L520.75,642.09 L521.00,640.99 L521.25,639.34 L521.50,636.67 L521.75,632.12 L522.00,624.46 L522.25,612.50 L522.50,596.51 L522.75,581.83 L523.00,580.10 L523.25,593.15 L523.50,609.56 L523.75,622.44 L524.00,630.89 L524.25,635.94 L524.50,638.90 L524.75,640.71 L525.00,641.90 L525.25,642.74 L525.50,643.36 L525.75,643.84 L526.00,644.21 L526.25,644.51 L526.50,644.75 L526.75,644.94 L527.00,645.11 L527.25,645.24 L527.50,645.36 L527.75,645.45 L528.00,645.54 L528.25,645.61 L528.50,645.67 L528.75,645.73 L529.00,645.78 L529.25,645.82 L529.50,645.86 L529.75,645.90 L530.00,645.93 L530.25,645.95 L530.50,645.98 L530.75,646.00 L531.00,646.02 L531.25,646.04 L531.50,646.06 L531.75,646.07 L532.00,646.09 L532.25,646.10 L532.50,646.11 L532.75,646.13 L533.00,646.14 L533.25,646.15 L533.50,646.15 L533.75,646.16 L534.00,646.17 L534.25,646.18 L534.50,646.18 L534.75,646.19 L535.00,646.20 L535.25,646.20 L535.50,646.21 L535.75,646.21 L536.00,646.22 L536.25,646.22 L536.50,646.22 L536.75,646.23 L537.00,646.23 L537.25,646.23 L537.50,646.24 L537.75,646.24 L538.00,646.24 L538.25,646.24 L538.50,646.25 L538.75,646.25 L539.00,646.25 L539.25,646.25 L539.50,646.26 L539.75,646.26 L540.00,646.26 L540.25,646.26 L540.50,646.26 L540.75,646.26 L541.00,646.26 L541.25,646.26 L541.50,646.26 L541.75,646.27 L542.00,646.27 L542.25,646.27 L542.50,646.27 L542.75,646.27 L543.00,646.27 L543.25,646.27 L543.50,646.27 L543.75,646.27 L544.00,646.27 L544.25,646.27 L544.50,646.27 L544.75,646.27 L545.00,646.27 L545.25,646.27 L545.50,646.27 L545.75,646.27 L546.00,646.27 L546.25,646.27 L546.50,646.27 L546.75,646.27 L547.00,646.26 L547.25,646.26 L547.50,646.26 L547.75,646.26 L548.00,646.26 L548.25,646.26 L548.50,646.26 L548.75,646.26 L549.00,646.26 L549.25,646.25 L549.50,646.25 L549.75,646.25 L550.00,646.25 L550.25,646.25 L550.50,646.24 L550.75,646.24 L551.00,646.24 L551.25,646.24 L551.50,646.24 L551.75,646.23 L552.00,646.23 L552.25,646.23 L552.50,646.22 L552.75,646.22 L553.00,646.22 L553.25,646.21 L553.50,646.21 L553.75,646.21 L554.00,646.20 L554.25,646.20 L554.50,646.19 L554.75,646.19 L555.00,646.18 L555.25,646.18 L555.50,646.17 L555.75,646.16 L556.00,646.16 L556.25,646.15 L556.50,646.14 L556.75,646.14 L557.00,646.13 L557.25,646.12 L557.50,646.11 L557.75,646.10 L558.00,646.09 L558.25,646.08 L558.50,646.06 L558.75,646.05 L559.00,646.04 L559.25,646.02 L559.50,646.00 L559.75,645.99 L560.00,645.97 L560.25,645.94 L560.50,645.92 L560.75,645.90 L561.00,645.87 L561.25,645.84 L561.50,645.80 L561.75,645.77 L562.00,645.72 L562.25,645.68 L562.50,645.63 L562.75,645.57 L563.00,645.50 L563.25,645.42 L563.50,645.33 L563.75,645.23 L564.00,645.11 L564.25,644.97 L564.50,644.81 L564.75,644.60 L565.00,644.35 L565.25,644.03 L565.50,643.62 L565.75,643.05 L566.00,642.25 L566.25,641.13 L566.50,639.56 L566.75,637.43 L567.00,634.65 L567.25,631.26 L567.50,627.62 L567.75,624.54 L568.00,623.26 L568.25,624.43 L568.50,627.38 L568.75,630.91 L569.00,634.16 L569.25,636.80 L569.50,638.78 L569.75,640.17 L570.00,641.09 L570.25,641.64 L570.50,641.92 L570.75,641.98 L571.00,641.85 L571.25,641.54 L571.50,640.99 L571.75,640.13 L572.00,638.80 L572.25,636.60 L572.50,632.72 L572.75,625.72 L573.00,613.73 L573.25,595.81 L573.50,576.12 L573.75,569.47 L574.00,583.57 L574.25,603.77 L574.50,619.45 L574.75,629.31 L575.00,634.94 L575.25,638.10 L575.50,640.00 L575.75,641.24 L576.00,642.12 L576.25,642.76 L576.50,643.24 L576.75,643.61 L577.00,643.89 L577.25,644.11 L577.50,644.28 L577.75,644.41 L578.00,644.51 L578.25,644.57 L578.50,644.62 L578.75,644.64 L579.00,644.63 L579.25,644.60 L579.50,644.55 L579.75,644.46 L580.00,644.35 L580.25,644.19 L580.50,643.99 L580.75,643.72 L581.00,643.37 L581.25,642.91 L581.50,642.29 L581.75,641.43 L582.00,640.21 L582.25,638.33 L582.50,635.19 L582.75,629.60 L583.00,619.77 L583.25,604.12 L583.50,583.95 L583.75,569.90 L584.00,576.60 L584.25,596.33 L584.50,614.32 L584.75,626.38 L585.00,633.46 L585.25,637.43 L585.50,639.73 L585.75,641.20 L586.00,642.21 L586.25,642.95 L586.50,643.50 L586.75,643.93 L587.00,644.27 L587.25,644.54 L587.50,644.76 L587.75,644.94 L588.00,645.09 L588.25,645.22 L588.50,645.33 L588.75,645.42 L589.00,645.50 L589.25,645.57 L589.50,645.63 L589.75,645.69 L590.00,645.74 L590.25,645.78 L590.50,645.82 L590.75,645.85 L591.00,645.89 L591.25,645.91 L591.50,645.94 L591.75,645.96 L592.00,645.99 L592.25,646.01 L592.50,646.03 L592.75,646.04 L593.00,646.06 L593.25,646.07 L593.50,646.09 L593.75,646.10 L594.00,646.11 L594.25,646.12 L594.50,646.13 L594.75,646.14 L595.00,646.15 L595.25,646.16 L595.50,646.17 L595.75,646.18 L596.00,646.18 L596.25,646.19 L596.50,646.20 L596.75,646.20 L597.00,646.21 L597.25,646.21 L597.50,646.22 L597.75,646.22 L598.00,646.23 L598.25,646.23 L598.50,646.24 L598.75,646.24 L599.00,646.25 L599.25,646.25 L599.50,646.25 L599.75,646.26 L600.00,646.26 L600.25,646.26 L600.50,646.27 L600.75,646.27 L601.00,646.27 L601.25,646.27 L601.50,646.28 L601.75,646.28 L602.00,646.28 L602.25,646.28 L602.50,646.29 L602.75,646.29 L603.00,646.29 L603.25,646.29 L603.50,646.30 L603.75,646.30 L604.00,646.30 L604.25,646.30 L604.50,646.30 L604.75,646.30 L605.00,646.31 L605.25,646.31 L605.50,646.31 L605.75,646.31 L606.00,646.31 L606.25,646.31 L606.50,646.31 L606.75,646.32 L607.00,646.32 L607.25,646.32 L607.50,646.32 L607.75,646.32 L608.00,646.32 L608.25,646.32 L608.50,646.32 L608.75,646.32 L609.00,646.33 L609.25,646.33 L609.50,646.33 L609.75,646.33 L610.00,646.33 L610.25,646.33 L610.50,646.33 L610.75,646.33 L611.00,646.33 L611.25,646.33 L611.50,646.33 L611.75,646.34 L612.00,646.34 L612.25,646.34 L612.50,646.34 L612.75,646.34 L613.00,646.34 L613.25,646.34 L613.50,646.34 L613.75,646.34 L614.00,646.34 L614.25,646.34 L614.50,646.34 L614.75,646.34 L615.00,646.34 L615.25,646.34 L615.50,646.34 L615.75,646.35 L616.00,646.35 L616.25,646.35 L616.50,646.35 L616.75,646.35 L617.00,646.35 L617.25,646.35 L617.50,646.35 L617.75,646.35 L618.00,646.35 L618.25,646.35 L618.50,646.35 L618.75,646.35 L619.00,646.35 L619.25,646.35 L619.50,646.35 L619.75,646.35 L620.00,646.35 L620.25,646.35 L620.50,646.35 L620.75,646.35 L621.00,646.35 L621.25,646.35 L621.50,646.35 L621.75,646.36 L622.00,646.36 L622.25,646.36 L622.50,646.36 L622.75,646.36 L623.00,646.36 L623.25,646.36 L623.50,646.36 L623.75,646.36 L624.00,646.36 L624.25,646.36 L624.50,646.36 L624.75,646.36 L625.00,646.36 L625.25,646.36 L625.50,646.36 L625.75,646.36 L626.00,646.36 L626.25,646.36 L626.50,646.36 L626.75,646.36 L627.00,646.36 L627.25,646.36 L627.50,646.36 L627.75,646.36 L628.00,646.36 L628.25,646.36 L628.50,646.36 L628.75,646.36 L629.00,646.36 L629.25,646.36 L629.50,646.36 L629.75,646.36 L630.00,646.36 L630.25,646.36 L630.50,646.36 L630.75,646.36 L631.00,646.36 L631.25,646.36 L631.50,646.36 L631.75,646.36 L632.00,646.36 L632.25,646.36 L632.50,646.36 L632.75,646.36 L633.00,646.36 L633.25,646.36 L633.50,646.36 L633.75,646.36 L634.00,646.36 L634.25,646.36 L634.50,646.36 L634.75,646.36 L635.00,646.36 L635.25,646.36 L635.50,646.36 L635.75,646.36 L636.00,646.36 L636.25,646.36 L636.50,646.36 L636.75,646.36 L637.00,646.36 L637.25,646.36 L637.50,646.36 L637.75,646.36 L638.00,646.36 L638.25,646.36 L638.50,646.36 L638.75,646.36 L639.00,646.36 L639.25,646.36 L639.50,646.36 L639.75,646.36 L640.00,646.36 L640.25,646.36 L640.50,646.36 L640.75,646.36 L641.00,646.36 L641.25,646.36 L641.50,646.36 L641.75,646.36 L642.00,646.36 L642.25,646.36 L642.50,646.36 L642.75,646.36 L643.00,646.36 L643.25,646.36 L643.50,646.36 L643.75,646.36 L644.00,646.36 L644.25,646.36 L644.50,646.36 L644.75,646.36 L645.00,646.36 L645.25,646.36 L645.50,646.36 L645.75,646.36 L646.00,646.36 L646.25,646.36 L646.50,646.36 L646.75,646.36 L647.00,646.36 L647.25,646.36 L647.50,646.36 L647.75,646.36 L648.00,646.36 L648.25,646.36 L648.50,646.36 L648.75,646.36 L649.00,646.36 L649.25,646.36 L649.50,646.36 L649.75,646.36 L650.00,646.36 L650.25,646.36 L650.50,646.36 L650.75,646.36 L651.00,646.36 L651.25,646.36 L651.50,646.36 L651.75,646.36 L652.00,646.36 L652.25,646.36 L652.50,646.36 L652.75,646.35 L653.00,646.35 L653.25,646.35 L653.50,646.35 L653.75,646.35 L654.00,646.35 L654.25,646.35 L654.50,646.35 L654.75,646.35 L655.00,646.35 L655.25,646.35 L655.50,646.35 L655.75,646.35 L656.00,646.35 L656.25,646.35 L656.50,646.35 L656.75,646.35 L657.00,646.34 L657.25,646.34 L657.50,646.34 L657.75,646.34 L658.00,646.34 L658.25,646.34 L658.50,646.34 L658.75,646.34 L659.00,646.34 L659.25,646.34 L659.50,646.33 L659.75,646.33 L660.00,646.33 L660.25,646.33 L660.50,646.33 L660.75,646.33 L661.00,646.33 L661.25,646.32 L661.50,646.32 L661.75,646.32 L662.00,646.32 L662.25,646.32 L662.50,646.31 L662.75,646.31 L663.00,646.31 L663.25,646.31 L663.50,646.30 L663.75,646.30 L664.00,646.30 L664.25,646.29 L664.50,646.29 L664.75,646.29 L665.00,646.28 L665.25,646.28 L665.50,646.27 L665.75,646.27 L666.00,646.26 L666.25,646.26 L666.50,646.25 L666.75,646.24 L667.00,646.24 L667.25,646.23 L667.50,646.22 L667.75,646.21 L668.00,646.20 L668.25,646.19 L668.50,646.18 L668.75,646.16 L669.00,646.15 L669.25,646.13 L669.50,646.11 L669.75,646.09 L670.00,646.06 L670.25,646.04 L670.50,646.01 L670.75,645.97 L671.00,645.93 L671.25,645.88 L671.50,645.82 L671.75,645.74 L672.00,645.66 L672.25,645.54 L672.50,645.40 L672.75,645.21 L673.00,644.95 L673.25,644.62 L673.50,644.19 L673.75,643.64 L674.00,642.96 L674.25,642.15 L674.50,641.26 L674.75,640.37 L675.00,639.64 L675.25,639.30 L675.50,639.44 L675.75,640.03 L676.00,640.86 L676.25,641.76 L676.50,642.60 L676.75,643.32 L677.00,643.91 L677.25,644.37 L677.50,644.73 L677.75,645.00 L678.00,645.19 L678.25,645.34 L678.50,645.44 L678.75,645.52 L679.00,645.57 L679.25,645.61 L679.50,645.63 L679.75,645.64 L680.00,645.64 L680.25,645.63 L680.50,645.60 L680.75,645.56 L681.00,645.50 L681.25,645.42 L681.50,645.32 L681.75,645.18 L682.00,644.99 L682.25,644.74 L682.50,644.39 L682.75,643.87 L683.00,643.06 L683.25,641.69 L683.50,639.34 L683.75,635.53 L684.00,630.03 L684.25,623.86 L684.50,620.78 L684.75,623.87 L685.00,630.05 L685.25,635.56 L685.50,639.38 L685.75,641.74 L686.00,643.12 L686.25,643.95 L686.50,644.48 L686.75,644.84 L687.00,645.11 L687.25,645.31 L687.50,645.46 L687.75,645.59 L688.00,645.69 L688.25,645.77 L688.50,645.84 L688.75,645.89 L689.00,645.94 L689.25,645.98 L689.50,646.02 L689.75,646.05 L690.00,646.07 L690.25,646.10 L690.50,646.12 L690.75,646.13 L691.00,646.15 L691.25,646.16 L691.50,646.18 L691.75,646.19 L692.00,646.20 L692.25,646.21 L692.50,646.22 L692.75,646.23 L693.00,646.23 L693.25,646.24 L693.50,646.25 L693.75,646.25 L694.00,646.26 L694.25,646.26 L694.50,646.27 L694.75,646.27 L695.00,646.28 L695.25,646.28 L695.50,646.28 L695.75,646.29 L696.00,646.29 L696.25,646.29 L696.50,646.29 L696.75,646.30 L697.00,646.30 L697.25,646.30 L697.50,646.30 L697.75,646.30 L698.00,646.31 L698.25,646.31 L698.50,646.31 L698.75,646.31 L699.00,646.31 L699.25,646.31 L699.50,646.31 L699.75,646.31 L700.00,646.31 L700.25,646.32 L700.50,646.32 L700.75,646.32 L701.00,646.32 L701.25,646.32 L701.50,646.32 L701.75,646.32 L702.00,646.32 L702.25,646.32 L702.50,646.32 L702.75,646.32 L703.00,646.32 L703.25,646.32 L703.50,646.32 L703.75,646.32 L704.00,646.32 L704.25,646.32 L704.50,646.32 L704.75,646.32 L705.00,646.32 L705.25,646.32 L705.50,646.32 L705.75,646.32 L706.00,646.32 L706.25,646.32 L706.50,646.32 L706.75,646.32 L707.00,646.32 L707.25,646.31 L707.50,646.31 L707.75,646.31 L708.00,646.31 L708.25,646.31 L708.50,646.31 L708.75,646.31 L709.00,646.31 L709.25,646.31 L709.50,646.30 L709.75,646.30 L710.00,646.30 L710.25,646.30 L710.50,646.30 L710.75,646.29 L711.00,646.29 L711.25,646.29 L711.50,646.29 L711.75,646.28 L712.00,646.28 L712.25,646.28 L712.50,646.27 L712.75,646.27 L713.00,646.27 L713.25,646.26 L713.50,646.26 L713.75,646.25 L714.00,646.25 L714.25,646.24 L714.50,646.24 L714.75,646.23 L715.00,646.22 L715.25,646.21 L715.50,646.20 L715.75,646.19 L716.00,646.18 L716.25,646.17 L716.50,646.16 L716.75,646.15 L717.00,646.13 L717.25,646.11 L717.50,646.09 L717.75,646.07 L718.00,646.04 L718.25,646.01 L718.50,645.98 L718.75,645.94 L719.00,645.89 L719.25,645.84 L719.50,645.77 L719.75,645.69 L720.00,645.59 L720.25,645.47 L720.50,645.31 L720.75,645.11 L721.00,644.83 L721.25,644.43 L721.50,643.80 L721.75,642.77 L722.00,641.01 L722.25,638.17 L722.50,634.08 L722.75,629.50 L723.00,627.19 L723.25,629.43 L723.50,633.92 L723.75,637.93 L724.00,640.67 L724.25,642.32 L724.50,643.23 L724.75,643.69 L725.00,643.89 L725.25,643.91 L725.50,643.74 L725.75,643.38 L726.00,642.78 L726.25,641.89 L726.50,640.68 L726.75,639.19 L727.00,637.56 L727.25,636.20 L727.50,635.66 L727.75,636.26 L728.00,637.69 L728.25,639.39 L728.50,640.96 L728.75,642.25 L729.00,643.24 L729.25,643.97 L729.50,644.49 L729.75,644.85 L730.00,645.12 L730.25,645.31 L730.50,645.45 L730.75,645.57 L731.00,645.66 L731.25,645.74 L731.50,645.80 L731.75,645.85 L732.00,645.90 L732.25,645.94 L732.50,645.97 L732.75,646.00 L733.00,646.02 L733.25,646.05 L733.50,646.07 L733.75,646.08 L734.00,646.10 L734.25,646.11 L734.50,646.12 L734.75,646.13 L735.00,646.14 L735.25,646.15 L735.50,646.16 L735.75,646.16 L736.00,646.17 L736.25,646.17 L736.50,646.18 L736.75,646.18 L737.00,646.18 L737.25,646.19 L737.50,646.19 L737.75,646.19 L738.00,646.19 L738.25,646.19 L738.50,646.19 L738.75,646.19 L739.00,646.19 L739.25,646.18 L739.50,646.18 L739.75,646.18 L740.00,646.17 L740.25,646.17 L740.50,646.16 L740.75,646.16 L741.00,646.15 L741.25,646.14 L741.50,646.13 L741.75,646.12 L742.00,646.11 L742.25,646.10 L742.50,646.08 L742.75,646.07 L743.00,646.05 L743.25,646.03 L743.50,646.01 L743.75,645.98 L744.00,645.95 L744.25,645.92 L744.50,645.88 L744.75,645.83 L745.00,645.78 L745.25,645.72 L745.50,645.64 L745.75,645.54 L746.00,645.43 L746.25,645.28 L746.50,645.09 L746.75,644.86 L747.00,644.56 L747.25,644.19 L747.50,643.74 L747.75,643.20 L748.00,642.57 L748.25,641.86 L748.50,641.11 L748.75,640.38 L749.00,639.77 L749.25,639.40 L749.50,639.36 L749.75,639.67 L750.00,640.24 L750.25,640.96 L750.50,641.71 L750.75,642.43 L751.00,643.08 L751.25,643.64 L751.50,644.11 L751.75,644.49 L752.00,644.80 L752.25,645.05 L752.50,645.24 L752.75,645.40 L753.00,645.52 L753.25,645.62 L753.50,645.70 L753.75,645.76 L754.00,645.82 L754.25,645.86 L754.50,645.90 L754.75,645.94 L755.00,645.97 L755.25,645.99 L755.50,646.02 L755.75,646.04 L756.00,646.06 L756.25,646.07 L756.50,646.08 L756.75,646.10 L757.00,646.11 L757.25,646.12 L757.50,646.12 L757.75,646.13 L758.00,646.14 L758.25,646.14 L758.50,646.15 L758.75,646.15 L759.00,646.15 L759.25,646.15 L759.50,646.15 L759.75,646.15 L760.00,646.15 L760.25,646.15 L760.50,646.15 L760.75,646.14 L761.00,646.14 L761.25,646.13 L761.50,646.12 L761.75,646.12 L762.00,646.11 L762.25,646.09 L762.50,646.08 L762.75,646.06 L763.00,646.04 L763.25,646.02 L763.50,645.99 L763.75,645.95 L764.00,645.91 L764.25,645.87 L764.50,645.81 L764.75,645.74 L765.00,645.64 L765.25,645.53 L765.50,645.38 L765.75,645.19 L766.00,644.92 L766.25,644.53 L766.50,643.92 L766.75,642.91 L767.00,641.17 L767.25,638.35 L767.50,634.28 L767.75,629.73 L768.00,627.46 L768.25,629.73 L768.50,634.27 L768.75,638.33 L769.00,641.14 L769.25,642.87 L769.50,643.88 L769.75,644.48 L770.00,644.86 L770.25,645.12 L770.50,645.30 L770.75,645.44 L771.00,645.54 L771.25,645.62 L771.50,645.68 L771.75,645.72 L772.00,645.75 L772.25,645.77 L772.50,645.78 L772.75,645.78 L773.00,645.78 L773.25,645.76 L773.50,645.74 L773.75,645.71 L774.00,645.66 L774.25,645.61 L774.50,645.54 L774.75,645.45 L775.00,645.33 L775.25,645.17 L775.50,644.97 L775.75,644.68 L776.00,644.27 L776.25,643.68 L776.50,642.85 L776.75,641.72 L777.00,640.24 L777.25,638.44 L777.50,636.50 L777.75,634.87 L778.00,634.21 L778.25,634.87 L778.50,636.51 L778.75,638.46 L779.00,640.27 L779.25,641.75 L779.50,642.89 L779.75,643.73 L780.00,644.32 L780.25,644.74 L780.50,645.04 L780.75,645.26 L781.00,645.42 L781.25,645.55 L781.50,645.65 L781.75,645.73 L782.00,645.80 L782.25,645.86 L782.50,645.91 L782.75,645.96 L783.00,645.99 L783.25,646.03 L783.50,646.05 L783.75,646.08 L784.00,646.10 L784.25,646.12 L784.50,646.14 L784.75,646.15 L785.00,646.17 L785.25,646.18 L785.50,646.19 L785.75,646.20 L786.00,646.21 L786.25,646.22 L786.50,646.23 L786.75,646.24 L787.00,646.24 L787.25,646.25 L787.50,646.25 L787.75,646.26 L788.00,646.26 L788.25,646.27 L788.50,646.27 L788.75,646.28 L789.00,646.28 L789.25,646.28 L789.50,646.29 L789.75,646.29 L790.00,646.29 L790.25,646.30 L790.50,646.30 L790.75,646.30 L791.00,646.30 L791.25,646.31 L791.50,646.31 L791.75,646.31 L792.00,646.31 L792.25,646.31 L792.50,646.31 L792.75,646.32 L793.00,646.32 L793.25,646.32 L793.50,646.32 L793.75,646.32 L794.00,646.32 L794.25,646.32 L794.50,646.32 L794.75,646.33 L795.00,646.33 L795.25,646.33 L795.50,646.33 L795.75,646.33 L796.00,646.33 L796.25,646.33 L796.50,646.33 L796.75,646.33 L797.00,646.33 L797.25,646.33 L797.50,646.33 L797.75,646.33 L798.00,646.33 L798.25,646.33 L798.50,646.33 L798.75,646.33 L799.00,646.33 L799.25,646.33 L799.50,646.33 L799.75,646.33 L800.00,646.33 L800.25,646.33 L800.50,646.33 L800.75,646.33 L801.00,646.33 L801.25,646.33 L801.50,646.33 L801.75,646.33 L802.00,646.33 L802.25,646.33 L802.50,646.33 L802.75,646.33 L803.00,646.33 L803.25,646.33 L803.50,646.33 L803.75,646.33 L804.00,646.33 L804.25,646.33 L804.50,646.33 L804.75,646.32 L805.00,646.32 L805.25,646.32 L805.50,646.32 L805.75,646.32 L806.00,646.32 L806.25,646.32 L806.50,646.32 L806.75,646.31 L807.00,646.31 L807.25,646.31 L807.50,646.31 L807.75,646.31 L808.00,646.30 L808.25,646.30 L808.50,646.30 L808.75,646.30 L809.00,646.29 L809.25,646.29 L809.50,646.29 L809.75,646.28 L810.00,646.28 L810.25,646.27 L810.50,646.27 L810.75,646.26 L811.00,646.26 L811.25,646.25 L811.50,646.24 L811.75,646.24 L812.00,646.23 L812.25,646.22 L812.50,646.21 L812.75,646.20 L813.00,646.18 L813.25,646.17 L813.50,646.15 L813.75,646.14 L814.00,646.12 L814.25,646.09 L814.50,646.07 L814.75,646.04 L815.00,646.00 L815.25,645.95 L815.50,645.90 L815.75,645.83 L816.00,645.75 L816.25,645.64 L816.50,645.50 L816.75,645.33 L817.00,645.12 L817.25,644.87 L817.50,644.56 L817.75,644.21 L818.00,643.81 L818.25,643.40 L818.50,643.01 L818.75,642.70 L819.00,642.53 L819.25,642.54 L819.50,642.74 L819.75,643.07 L820.00,643.46 L820.25,643.87 L820.50,644.25 L820.75,644.59 L821.00,644.88 L821.25,645.12 L821.50,645.31 L821.75,645.46 L822.00,645.59 L822.25,645.68 L822.50,645.75 L822.75,645.81 L823.00,645.85 L823.25,645.88 L823.50,645.90 L823.75,645.92 L824.00,645.93 L824.25,645.93 L824.50,645.93 L824.75,645.93 L825.00,645.92 L825.25,645.90 L825.50,645.88 L825.75,645.85 L826.00,645.81 L826.25,645.76 L826.50,645.70 L826.75,645.62 L827.00,645.51 L827.25,645.38 L827.50,645.21 L827.75,644.99 L828.00,644.72 L828.25,644.39 L828.50,644.00 L828.75,643.56 L829.00,643.08 L829.25,642.59 L829.50,642.15 L829.75,641.83 L830.00,641.72 L830.25,641.84 L830.50,642.15 L830.75,642.60 L831.00,643.09 L831.25,643.58 L831.50,644.03 L831.75,644.42 L832.00,644.76 L832.25,645.03 L832.50,645.26 L832.75,645.43 L833.00,645.58 L833.25,645.69 L833.50,645.78 L833.75,645.85 L834.00,645.91 L834.25,645.96 L834.50,646.00 L834.75,646.03 L835.00,646.06 L835.25,646.08 L835.50,646.11 L835.75,646.13 L836.00,646.14 L836.25,646.16 L836.50,646.17 L836.75,646.18 L837.00,646.19 L837.25,646.20 L837.50,646.21 L837.75,646.22 L838.00,646.23 L838.25,646.24 L838.50,646.24 L838.75,646.25 L839.00,646.25 L839.25,646.26 L839.50,646.26 L839.75,646.27 L840.00,646.27 L840.25,646.27 L840.50,646.28 L840.75,646.28 L841.00,646.28 L841.25,646.28 L841.50,646.29 L841.75,646.29 L842.00,646.29 L842.25,646.29 L842.50,646.29 L842.75,646.29 L843.00,646.29 L843.25,646.30 L843.50,646.30 L843.75,646.30 L844.00,646.30 L844.25,646.30 L844.50,646.30 L844.75,646.30 L845.00,646.30 L845.25,646.30 L845.50,646.30 L845.75,646.30 L846.00,646.30 L846.25,646.30 L846.50,646.30 L846.75,646.29 L847.00,646.29 L847.25,646.29 L847.50,646.29 L847.75,646.29 L848.00,646.29 L848.25,646.29 L848.50,646.28 L848.75,646.28 L849.00,646.28 L849.25,646.28 L849.50,646.27 L849.75,646.27 L850.00,646.27 L850.25,646.26 L850.50,646.26 L850.75,646.26 L851.00,646.25 L851.25,646.25 L851.50,646.24 L851.75,646.23 L852.00,646.23 L852.25,646.22 L852.50,646.21 L852.75,646.20 L853.00,646.20 L853.25,646.19 L853.50,646.17 L853.75,646.16 L854.00,646.15 L854.25,646.13 L854.50,646.12 L854.75,646.10 L855.00,646.08 L855.25,646.05 L855.50,646.03 L855.75,646.00 L856.00,645.97 L856.25,645.93 L856.50,645.88 L856.75,645.83 L857.00,645.77 L857.25,645.69 L857.50,645.60 L857.75,645.49 L858.00,645.35 L858.25,645.17 L858.50,644.95 L858.75,644.66 L859.00,644.31 L859.25,643.88 L859.50,643.35 L859.75,642.74 L860.00,642.05 L860.25,641.30 L860.50,640.56 L860.75,639.91 L861.00,639.49 L861.25,639.38 L861.50,639.62 L861.75,640.15 L862.00,640.85 L862.25,641.60 L862.50,642.33 L862.75,643.00 L863.00,643.58 L863.25,644.06 L863.50,644.46 L863.75,644.79 L864.00,645.05 L864.25,645.25 L864.50,645.41 L864.75,645.54 L865.00,645.64 L865.25,645.73 L865.50,645.80 L865.75,645.86 L866.00,645.90 L866.25,645.95 L866.50,645.98 L866.75,646.02 L867.00,646.04 L867.25,646.07 L867.50,646.09 L867.75,646.11 L868.00,646.13 L868.25,646.14 L868.50,646.16 L868.75,646.17 L869.00,646.18 L869.25,646.20 L869.50,646.21 L869.75,646.21 L870.00,646.22 L870.25,646.23 L870.50,646.24 L870.75,646.24 L871.00,646.25 L871.25,646.26 L871.50,646.26 L871.75,646.27 L872.00,646.27 L872.25,646.28 L872.50,646.28 L872.75,646.28 L873.00,646.29 L873.25,646.29 L873.50,646.29 L873.75,646.30 L874.00,646.30 L874.25,646.30 L874.50,646.30 L874.75,646.30 L875.00,646.31 L875.25,646.31 L875.50,646.31 L875.75,646.31 L876.00,646.31 L876.25,646.31 L876.50,646.32 L876.75,646.32 L877.00,646.32 L877.25,646.32 L877.50,646.32 L877.75,646.32 L878.00,646.32 L878.25,646.32 L878.50,646.32 L878.75,646.32 L879.00,646.33 L879.25,646.33 L879.50,646.33 L879.75,646.33 L880.00,646.33 L880.25,646.33 L880.50,646.33 L880.75,646.33 L881.00,646.33 L881.25,646.33 L881.50,646.33 L881.75,646.33 L882.00,646.33 L882.25,646.33 L882.50,646.33 L882.75,646.33 L883.00,646.33 L883.25,646.33 L883.50,646.33 L883.75,646.33 L884.00,646.33 L884.25,646.32 L884.50,646.32 L884.75,646.32 L885.00,646.32 L885.25,646.32 L885.50,646.32 L885.75,646.32 L886.00,646.32 L886.25,646.32 L886.50,646.32 L886.75,646.32 L887.00,646.31 L887.25,646.31 L887.50,646.31 L887.75,646.31 L888.00,646.31 L888.25,646.31 L888.50,646.30 L888.75,646.30 L889.00,646.30 L889.25,646.30 L889.50,646.29 L889.75,646.29 L890.00,646.29 L890.25,646.28 L890.50,646.28 L890.75,646.28 L891.00,646.27 L891.25,646.27 L891.50,646.26 L891.75,646.26 L892.00,646.25 L892.25,646.25 L892.50,646.24 L892.75,646.23 L893.00,646.22 L893.25,646.21 L893.50,646.20 L893.75,646.19 L894.00,646.18 L894.25,646.17 L894.50,646.15 L894.75,646.13 L895.00,646.11 L895.25,646.09 L895.50,646.06 L895.75,646.03 L896.00,645.99 L896.25,645.94 L896.50,645.88 L896.75,645.80 L897.00,645.70 L897.25,645.58 L897.50,645.43 L897.75,645.25 L898.00,645.03 L898.25,644.77 L898.50,644.48 L898.75,644.17 L899.00,643.85 L899.25,643.58 L899.50,643.40 L899.75,643.35 L900.00,643.44 L900.25,643.65 L900.50,643.94 L900.75,644.24 L901.00,644.53 L901.25,644.80 L901.50,645.03 L901.75,645.22 L902.00,645.37 L902.25,645.49 L902.50,645.59 L902.75,645.66 L903.00,645.71 L903.25,645.74 L903.50,645.76 L903.75,645.77 L904.00,645.78 L904.25,645.77 L904.50,645.76 L904.75,645.74 L905.00,645.71 L905.25,645.67 L905.50,645.63 L905.75,645.57 L906.00,645.50 L906.25,645.41 L906.50,645.30 L906.75,645.17 L907.00,645.01 L907.25,644.82 L907.50,644.60 L907.75,644.34 L908.00,644.04 L908.25,643.70 L908.50,643.32 L908.75,642.91 L909.00,642.48 L909.25,642.05 L909.50,641.64 L909.75,641.30 L910.00,641.05 L910.25,640.95 L910.50,641.00 L910.75,641.19 L911.00,641.50 L911.25,641.89 L911.50,642.33 L911.75,642.76 L912.00,643.19 L912.25,643.58 L912.50,643.94 L912.75,644.27 L913.00,644.55 L913.25,644.79 L913.50,645.00 L913.75,645.18 L914.00,645.33 L914.25,645.45 L914.50,645.56 L914.75,645.64 L915.00,645.72 L915.25,645.78 L915.50,645.84 L915.75,645.88 L916.00,645.92 L916.25,645.96 L916.50,645.99 L916.75,646.02 L917.00,646.04 L917.25,646.07 L917.50,646.09 L917.75,646.10 L918.00,646.12 L918.25,646.14 L918.50,646.15 L918.75,646.16 L919.00,646.18 L919.25,646.19 L919.50,646.20 L919.75,646.21 L920.00,646.21 L920.25,646.22 L920.50,646.23 L920.75,646.24 L921.00,646.24 L921.25,646.25 L921.50,646.26 L921.75,646.26 L922.00,646.27 L922.25,646.27 L922.50,646.28 L922.75,646.28 L923.00,646.29 L923.25,646.29 L923.50,646.29 L923.75,646.30 L924.00,646.30 L924.25,646.30 L924.50,646.31 L924.75,646.31 L925.00,646.31 L925.25,646.31 L925.50,646.32 L925.75,646.32 L926.00,646.32 L926.25,646.32 L926.50,646.33 L926.75,646.33 L927.00,646.33 L927.25,646.33 L927.50,646.33 L927.75,646.33 L928.00,646.34 L928.25,646.34 L928.50,646.34 L928.75,646.34 L929.00,646.34 L929.25,646.34 L929.50,646.34 L929.75,646.35 L930.00,646.35 L930.25,646.35 L930.50,646.35 L930.75,646.35 L931.00,646.35 L931.25,646.35 L931.50,646.35 L931.75,646.35 L932.00,646.35 L932.25,646.36 L932.50,646.36 L932.75,646.36 L933.00,646.36 L933.25,646.36 L933.50,646.36 L933.75,646.36 L934.00,646.36 L934.25,646.36 L934.50,646.36 L934.75,646.36 L935.00,646.36 L935.25,646.36 L935.50,646.36 L935.75,646.37 L936.00,646.37 L936.25,646.37 L936.50,646.37 L936.75,646.37 L937.00,646.37 L937.25,646.37 L937.50,646.37 L937.75,646.37 L938.00,646.37 L938.25,646.37 L938.50,646.37 L938.75,646.37 L939.00,646.37" fill="none" stroke="url(#gTr)" stroke-width="1.6" stroke-linejoin="round" filter="url(#bl2)"/>
<rect x="363.9" y="298" width="6" height="267" fill="#c8c8c8"/>
<rect x="366" y="493" width="4" height="72" fill="#aaa"/>
<rect x="367.9" y="565" width="2.9" height="55" fill="#b4b4b4"/>
<rect x="363.2" y="611" width="2.6" height="11" fill="#bdbdbd"/>
<linearGradient id="gTopB" x1="0" y1="5" x2="0" y2="9.6" gradientUnits="userSpaceOnUse"><stop offset="0" stop-color="#111"/><stop offset="0.6" stop-color="#222"/><stop offset="1" stop-color="#888"/></linearGradient>
<rect x="76" y="5" width="865.5" height="4.4" fill="url(#gTopB)"/>
<rect x="77.4" y="6" width="2.2" height="658" fill="#0a0a0a"/>
<rect x="939.4" y="6" width="2.1" height="659" fill="#3a3a3a"/>
<linearGradient id="gAx" x1="0" y1="653.5" x2="0" y2="657" gradientUnits="userSpaceOnUse"><stop offset="0" stop-color="#999"/><stop offset="0.5" stop-color="#6a6a6a"/><stop offset="1" stop-color="#3a3a3a"/></linearGradient>
<rect x="78" y="653.5" width="863" height="3.5" fill="url(#gAx)"/>
<rect x="75" y="648.4" width="3" height="1.2" fill="#222"/>
<rect x="75" y="584.2" width="3" height="1.2" fill="#222"/>
<rect x="75" y="520.0" width="3" height="1.2" fill="#222"/>
<rect x="75" y="455.7" width="3" height="1.2" fill="#222"/>
<rect x="75" y="391.5" width="3" height="1.2" fill="#222"/>
<rect x="75" y="327.3" width="3" height="1.2" fill="#222"/>
<rect x="75" y="263.1" width="3" height="1.2" fill="#222"/>
<rect x="75" y="198.9" width="3" height="1.2" fill="#222"/>
<rect x="75" y="134.6" width="3" height="1.2" fill="#222"/>
<rect x="75" y="70.4" width="3" height="1.2" fill="#222"/>
<rect x="75" y="6.2" width="3" height="1.2" fill="#222"/>
<rect x="78.05" y="656.5" width="1.5" height="7.1" fill="#1a1a1a"/>
<rect x="89.54" y="656.5" width="1.2" height="3" fill="#555"/>
<rect x="100.73" y="656.5" width="1.5" height="7.1" fill="#1a1a1a"/>
<rect x="112.22" y="656.5" width="1.2" height="3" fill="#555"/>
<rect x="123.40" y="656.5" width="1.5" height="7.1" fill="#1a1a1a"/>
<rect x="134.89" y="656.5" width="1.2" height="3" fill="#555"/>
<rect x="146.08" y="656.5" width="1.5" height="7.1" fill="#1a1a1a"/>
<rect x="157.57" y="656.5" width="1.2" height="3" fill="#555"/>
<rect x="168.76" y="656.5" width="1.5" height="7.1" fill="#1a1a1a"/>
<rect x="180.25" y="656.5" width="1.2" height="3" fill="#555"/>
<rect x="191.44" y="656.5" width="1.5" height="7.1" fill="#1a1a1a"/>
<rect x="202.92" y="656.5" width="1.2" height="3" fill="#555"/>
<rect x="214.11" y="656.5" width="1.5" height="7.1" fill="#1a1a1a"/>
<rect x="225.60" y="656.5" width="1.2" height="3" fill="#555"/>
<rect x="236.79" y="656.5" width="1.5" height="7.1" fill="#1a1a1a"/>
<rect x="248.28" y="656.5" width="1.2" height="3" fill="#555"/>
<rect x="259.47" y="656.5" width="1.5" height="7.1" fill="#1a1a1a"/>
<rect x="270.96" y="656.5" width="1.2" height="3" fill="#555"/>
<rect x="282.14" y="656.5" width="1.5" height="7.1" fill="#1a1a1a"/>
<rect x="293.63" y="656.5" width="1.2" height="3" fill="#555"/>
<rect x="304.82" y="656.5" width="1.5" height="7.1" fill="#1a1a1a"/>
<rect x="316.31" y="656.5" width="1.2" height="3" fill="#555"/>
<rect x="327.50" y="656.5" width="1.5" height="7.1" fill="#1a1a1a"/>
<rect x="338.99" y="656.5" width="1.2" height="3" fill="#555"/>
<rect x="350.18" y="656.5" width="1.5" height="7.1" fill="#1a1a1a"/>
<rect x="361.66" y="656.5" width="1.2" height="3" fill="#555"/>
<rect x="372.85" y="656.5" width="1.5" height="7.1" fill="#1a1a1a"/>
<rect x="384.34" y="656.5" width="1.2" height="3" fill="#555"/>
<rect x="395.53" y="656.5" width="1.5" height="7.1" fill="#1a1a1a"/>
<rect x="407.02" y="656.5" width="1.2" height="3" fill="#555"/>
<rect x="418.21" y="656.5" width="1.5" height="7.1" fill="#1a1a1a"/>
<rect x="429.70" y="656.5" width="1.2" height="3" fill="#555"/>
<rect x="440.89" y="656.5" width="1.5" height="7.1" fill="#1a1a1a"/>
<rect x="452.37" y="656.5" width="1.2" height="3" fill="#555"/>
<rect x="463.56" y="656.5" width="1.5" height="7.1" fill="#1a1a1a"/>
<rect x="475.05" y="656.5" width="1.2" height="3" fill="#555"/>
<rect x="486.24" y="656.5" width="1.5" height="7.1" fill="#1a1a1a"/>
<rect x="497.73" y="656.5" width="1.2" height="3" fill="#555"/>
<rect x="508.92" y="656.5" width="1.5" height="7.1" fill="#1a1a1a"/>
<rect x="520.41" y="656.5" width="1.2" height="3" fill="#555"/>
<rect x="531.59" y="656.5" width="1.5" height="7.1" fill="#1a1a1a"/>
<rect x="543.08" y="656.5" width="1.2" height="3" fill="#555"/>
<rect x="554.27" y="656.5" width="1.5" height="7.1" fill="#1a1a1a"/>
<rect x="565.76" y="656.5" width="1.2" height="3" fill="#555"/>
<rect x="576.95" y="656.5" width="1.5" height="7.1" fill="#1a1a1a"/>
<rect x="588.44" y="656.5" width="1.2" height="3" fill="#555"/>
<rect x="599.63" y="656.5" width="1.5" height="7.1" fill="#1a1a1a"/>
<rect x="611.11" y="656.5" width="1.2" height="3" fill="#555"/>
<rect x="622.30" y="656.5" width="1.5" height="7.1" fill="#1a1a1a"/>
<rect x="633.79" y="656.5" width="1.2" height="3" fill="#555"/>
<rect x="644.98" y="656.5" width="1.5" height="7.1" fill="#1a1a1a"/>
<rect x="656.47" y="656.5" width="1.2" height="3" fill="#555"/>
<rect x="667.66" y="656.5" width="1.5" height="7.1" fill="#1a1a1a"/>
<rect x="679.15" y="656.5" width="1.2" height="3" fill="#555"/>
<rect x="690.33" y="656.5" width="1.5" height="7.1" fill="#1a1a1a"/>
<rect x="701.82" y="656.5" width="1.2" height="3" fill="#555"/>
<rect x="713.01" y="656.5" width="1.5" height="7.1" fill="#1a1a1a"/>
<rect x="724.50" y="656.5" width="1.2" height="3" fill="#555"/>
<rect x="735.69" y="656.5" width="1.5" height="7.1" fill="#1a1a1a"/>
<rect x="747.18" y="656.5" width="1.2" height="3" fill="#555"/>
<rect x="758.37" y="656.5" width="1.5" height="7.1" fill="#1a1a1a"/>
<rect x="769.85" y="656.5" width="1.2" height="3" fill="#555"/>
<rect x="781.04" y="656.5" width="1.5" height="7.1" fill="#1a1a1a"/>
<rect x="792.53" y="656.5" width="1.2" height="3" fill="#555"/>
<rect x="803.72" y="656.5" width="1.5" height="7.1" fill="#1a1a1a"/>
<rect x="815.21" y="656.5" width="1.2" height="3" fill="#555"/>
<rect x="826.40" y="656.5" width="1.5" height="7.1" fill="#1a1a1a"/>
<rect x="837.89" y="656.5" width="1.2" height="3" fill="#555"/>
<rect x="849.07" y="656.5" width="1.5" height="7.1" fill="#1a1a1a"/>
<rect x="860.56" y="656.5" width="1.2" height="3" fill="#555"/>
<rect x="871.75" y="656.5" width="1.5" height="7.1" fill="#1a1a1a"/>
<rect x="883.24" y="656.5" width="1.2" height="3" fill="#555"/>
<rect x="894.43" y="656.5" width="1.5" height="7.1" fill="#1a1a1a"/>
<rect x="905.92" y="656.5" width="1.2" height="3" fill="#555"/>
<rect x="917.11" y="656.5" width="1.5" height="7.1" fill="#1a1a1a"/>
<rect x="928.59" y="656.5" width="1.2" height="3" fill="#555"/>
<rect x="939.78" y="656.5" width="1.5" height="7.1" fill="#1a1a1a"/>
<g filter="url(#tb)"><text transform="translate(73.5,655.9) scale(1,1.6)" text-anchor="end" font-size="13.2" fill="#333" style="font-family:'Liberation Serif',serif">0</text><text transform="translate(73.5,591.7) scale(1,1.6)" text-anchor="end" font-size="13.2" fill="#333" style="font-family:'Liberation Serif',serif">700</text><text transform="translate(73.5,527.5) scale(1,1.6)" text-anchor="end" font-size="13.2" fill="#333" style="font-family:'Liberation Serif',serif">1400</text><text transform="translate(73.5,463.2) scale(1,1.6)" text-anchor="end" font-size="13.2" fill="#333" style="font-family:'Liberation Serif',serif">2100</text><text transform="translate(73.5,399.0) scale(1,1.6)" text-anchor="end" font-size="13.2" fill="#333" style="font-family:'Liberation Serif',serif">2800</text><text transform="translate(73.5,334.8) scale(1,1.6)" text-anchor="end" font-size="13.2" fill="#333" style="font-family:'Liberation Serif',serif">3500</text><text transform="translate(73.5,270.6) scale(1,1.6)" text-anchor="end" font-size="13.2" fill="#333" style="font-family:'Liberation Serif',serif">4200</text><text transform="translate(73.5,206.4) scale(1,1.6)" text-anchor="end" font-size="13.2" fill="#333" style="font-family:'Liberation Serif',serif">4900</text><text transform="translate(73.5,142.1) scale(1,1.6)" text-anchor="end" font-size="13.2" fill="#333" style="font-family:'Liberation Serif',serif">5600</text><text transform="translate(73.5,77.9) scale(1,1.6)" text-anchor="end" font-size="13.2" fill="#333" style="font-family:'Liberation Serif',serif">6300</text><text transform="translate(73.5,21.2) scale(1,1.6)" text-anchor="end" font-size="13.2" fill="#333" style="font-family:'Liberation Serif',serif">7000</text><text transform="translate(78.80,678.8) scale(1,1.62)" text-anchor="middle" font-size="13.5" fill="#333" style="font-family:'Liberation Serif',serif">4</text><text transform="translate(101.48,678.8) scale(1,1.62)" text-anchor="middle" font-size="13.5" fill="#333" style="font-family:'Liberation Serif',serif">6</text><text transform="translate(124.15,678.8) scale(1,1.62)" text-anchor="middle" font-size="13.5" fill="#333" style="font-family:'Liberation Serif',serif">8</text><text transform="translate(146.83,678.8) scale(1,1.62)" text-anchor="middle" font-size="13.5" fill="#333" style="font-family:'Liberation Serif',serif">10</text><text transform="translate(169.51,678.8) scale(1,1.62)" text-anchor="middle" font-size="13.5" fill="#333" style="font-family:'Liberation Serif',serif">12</text><text transform="translate(192.19,678.8) scale(1,1.62)" text-anchor="middle" font-size="13.5" fill="#333" style="font-family:'Liberation Serif',serif">14</text><text transform="translate(214.86,678.8) scale(1,1.62)" text-anchor="middle" font-size="13.5" fill="#333" style="font-family:'Liberation Serif',serif">16</text><text transform="translate(237.54,678.8) scale(1,1.62)" text-anchor="middle" font-size="13.5" fill="#333" style="font-family:'Liberation Serif',serif">18</text><text transform="translate(260.22,678.8) scale(1,1.62)" text-anchor="middle" font-size="13.5" fill="#333" style="font-family:'Liberation Serif',serif">20</text><text transform="translate(282.89,678.8) scale(1,1.62)" text-anchor="middle" font-size="13.5" fill="#333" style="font-family:'Liberation Serif',serif">22</text><text transform="translate(305.57,678.8) scale(1,1.62)" text-anchor="middle" font-size="13.5" fill="#333" style="font-family:'Liberation Serif',serif">24</text><text transform="translate(328.25,678.8) scale(1,1.62)" text-anchor="middle" font-size="13.5" fill="#333" style="font-family:'Liberation Serif',serif">26</text><text transform="translate(350.93,678.8) scale(1,1.62)" text-anchor="middle" font-size="13.5" fill="#333" style="font-family:'Liberation Serif',serif">28</text><text transform="translate(373.60,678.8) scale(1,1.62)" text-anchor="middle" font-size="13.5" fill="#333" style="font-family:'Liberation Serif',serif">30</text><text transform="translate(396.28,678.8) scale(1,1.62)" text-anchor="middle" font-size="13.5" fill="#333" style="font-family:'Liberation Serif',serif">32</text><text transform="translate(418.96,678.8) scale(1,1.62)" text-anchor="middle" font-size="13.5" fill="#333" style="font-family:'Liberation Serif',serif">34</text><text transform="translate(441.64,678.8) scale(1,1.62)" text-anchor="middle" font-size="13.5" fill="#333" style="font-family:'Liberation Serif',serif">36</text><text transform="translate(464.31,678.8) scale(1,1.62)" text-anchor="middle" font-size="13.5" fill="#333" style="font-family:'Liberation Serif',serif">38</text><text transform="translate(486.99,678.8) scale(1,1.62)" text-anchor="middle" font-size="13.5" fill="#333" style="font-family:'Liberation Serif',serif">40</text><text transform="translate(509.67,678.8) scale(1,1.62)" text-anchor="middle" font-size="13.5" fill="#333" style="font-family:'Liberation Serif',serif">42</text><text transform="translate(532.34,678.8) scale(1,1.62)" text-anchor="middle" font-size="13.5" fill="#333" style="font-family:'Liberation Serif',serif">44</text><text transform="translate(555.02,678.8) scale(1,1.62)" text-anchor="middle" font-size="13.5" fill="#333" style="font-family:'Liberation Serif',serif">46</text><text transform="translate(577.70,678.8) scale(1,1.62)" text-anchor="middle" font-size="13.5" fill="#333" style="font-family:'Liberation Serif',serif">48</text><text transform="translate(600.38,678.8) scale(1,1.62)" text-anchor="middle" font-size="13.5" fill="#333" style="font-family:'Liberation Serif',serif">50</text><text transform="translate(623.05,678.8) scale(1,1.62)" text-anchor="middle" font-size="13.5" fill="#333" style="font-family:'Liberation Serif',serif">52</text><text transform="translate(645.73,678.8) scale(1,1.62)" text-anchor="middle" font-size="13.5" fill="#333" style="font-family:'Liberation Serif',serif">54</text><text transform="translate(668.41,678.8) scale(1,1.62)" text-anchor="middle" font-size="13.5" fill="#333" style="font-family:'Liberation Serif',serif">56</text><text transform="translate(691.08,678.8) scale(1,1.62)" text-anchor="middle" font-size="13.5" fill="#333" style="font-family:'Liberation Serif',serif">58</text><text transform="translate(713.76,678.8) scale(1,1.62)" text-anchor="middle" font-size="13.5" fill="#333" style="font-family:'Liberation Serif',serif">60</text><text transform="translate(736.44,678.8) scale(1,1.62)" text-anchor="middle" font-size="13.5" fill="#333" style="font-family:'Liberation Serif',serif">62</text><text transform="translate(759.12,678.8) scale(1,1.62)" text-anchor="middle" font-size="13.5" fill="#333" style="font-family:'Liberation Serif',serif">64</text><text transform="translate(781.79,678.8) scale(1,1.62)" text-anchor="middle" font-size="13.5" fill="#333" style="font-family:'Liberation Serif',serif">66</text><text transform="translate(804.47,678.8) scale(1,1.62)" text-anchor="middle" font-size="13.5" fill="#333" style="font-family:'Liberation Serif',serif">68</text><text transform="translate(827.15,678.8) scale(1,1.62)" text-anchor="middle" font-size="13.5" fill="#333" style="font-family:'Liberation Serif',serif">70</text><text transform="translate(849.82,678.8) scale(1,1.62)" text-anchor="middle" font-size="13.5" fill="#333" style="font-family:'Liberation Serif',serif">72</text><text transform="translate(872.50,678.8) scale(1,1.62)" text-anchor="middle" font-size="13.5" fill="#333" style="font-family:'Liberation Serif',serif">74</text><text transform="translate(895.18,678.8) scale(1,1.62)" text-anchor="middle" font-size="13.5" fill="#333" style="font-family:'Liberation Serif',serif">76</text><text transform="translate(917.86,678.8) scale(1,1.62)" text-anchor="middle" font-size="13.5" fill="#333" style="font-family:'Liberation Serif',serif">78</text><text transform="translate(940.53,678.8) scale(1,1.62)" text-anchor="middle" font-size="13.5" fill="#333" style="font-family:'Liberation Serif',serif">80</text></g>
<g filter="url(#tb)"><text transform="translate(21,402) rotate(-90)" font-size="20.3" font-weight="bold" fill="#1a1a1a" textLength="158" lengthAdjust="spacingAndGlyphs" style="font-family:'Liberation Serif',serif">Intensity / (cps)</text>
<text x="486.6" y="703.4" font-size="20" font-weight="bold" fill="#1a1a1a" textLength="100.6" lengthAdjust="spacingAndGlyphs" style="font-family:'Liberation Serif',serif">2theta / (degree)</text></g>
<g filter="url(#tb)">
<text transform="translate(298.3,604.0) rotate(-90)" font-size="9.2" fill="#222" textLength="44.0" lengthAdjust="spacingAndGlyphs" style="font-family:'Liberation Serif',serif">3.8531</text>
<ellipse cx="295.2" cy="553.5" rx="2.9" ry="4.8" fill="none" stroke="#444" stroke-width="1"/>
<circle cx="295.2" cy="553.5" r="1.1" fill="#555"/>
<text transform="translate(338.6,634.0) rotate(-90)" font-size="9.2" fill="#222" textLength="39.0" lengthAdjust="spacingAndGlyphs" style="font-family:'Liberation Serif',serif">3.3467</text>
<ellipse cx="335.5" cy="588.5" rx="2.9" ry="4.8" fill="none" stroke="#444" stroke-width="1"/>
<circle cx="335.5" cy="588.5" r="1.1" fill="#555"/>
<text transform="translate(369.6,75.0) rotate(-90)" font-size="9.2" fill="#222" textLength="46.0" lengthAdjust="spacingAndGlyphs" style="font-family:'Liberation Serif',serif">3.0350</text>
<ellipse cx="366.5" cy="22.5" rx="2.9" ry="4.8" fill="none" stroke="#444" stroke-width="1"/>
<circle cx="366.5" cy="22.5" r="1.1" fill="#555"/>
<text transform="translate(393.6,633.0) rotate(-90)" font-size="9.2" fill="#222" textLength="45.6" lengthAdjust="spacingAndGlyphs" style="font-family:'Liberation Serif',serif">2.8420</text>
<ellipse cx="390.5" cy="580.9" rx="2.9" ry="4.8" fill="none" stroke="#444" stroke-width="1"/>
<circle cx="390.5" cy="580.9" r="1.1" fill="#555"/>
<text transform="translate(444.9,590.0) rotate(-90)" font-size="9.2" fill="#222" textLength="44.3" lengthAdjust="spacingAndGlyphs" style="font-family:'Liberation Serif',serif">2.4936</text>
<ellipse cx="441.8" cy="539.2" rx="2.9" ry="4.8" fill="none" stroke="#444" stroke-width="1"/>
<circle cx="441.8" cy="539.2" r="1.1" fill="#555"/>
<text transform="translate(483.8,567.0) rotate(-90)" font-size="9.2" fill="#222" textLength="44.0" lengthAdjust="spacingAndGlyphs" style="font-family:'Liberation Serif',serif">2.2852</text>
<ellipse cx="480.7" cy="516.5" rx="2.9" ry="4.8" fill="none" stroke="#444" stroke-width="1"/>
<circle cx="480.7" cy="516.5" r="1.1" fill="#555"/>
<text transform="translate(526.5,576.4) rotate(-90)" font-size="9.2" fill="#222" textLength="44.4" lengthAdjust="spacingAndGlyphs" style="font-family:'Liberation Serif',serif">2.0930</text>
<ellipse cx="523.4" cy="525.5" rx="2.9" ry="4.8" fill="none" stroke="#444" stroke-width="1"/>
<circle cx="523.4" cy="525.5" r="1.1" fill="#555"/>
<text transform="translate(570.9,621.0) rotate(-90)" font-size="9.2" fill="#222" textLength="44.0" lengthAdjust="spacingAndGlyphs" style="font-family:'Liberation Serif',serif">1.9282</text>
<ellipse cx="567.8" cy="570.5" rx="2.9" ry="4.8" fill="none" stroke="#444" stroke-width="1"/>
<circle cx="567.8" cy="570.5" r="1.1" fill="#555"/>
<text transform="translate(577.0,565.0) rotate(-90)" font-size="9.2" fill="#222" textLength="38.4" lengthAdjust="spacingAndGlyphs" style="font-family:'Liberation Serif',serif">1.9110</text>
<ellipse cx="573.9" cy="520.1" rx="2.9" ry="4.8" fill="none" stroke="#444" stroke-width="1"/>
<circle cx="573.9" cy="520.1" r="1.1" fill="#555"/>
<text transform="translate(587.6,569.7) rotate(-90)" font-size="9.2" fill="#222" textLength="43.1" lengthAdjust="spacingAndGlyphs" style="font-family:'Liberation Serif',serif">1.8738</text>
<ellipse cx="584.5" cy="520.1" rx="2.9" ry="4.8" fill="none" stroke="#444" stroke-width="1"/>
<circle cx="584.5" cy="520.1" r="1.1" fill="#555"/>
<text transform="translate(678.1,634.3) rotate(-90)" font-size="9.2" fill="#222" textLength="45.3" lengthAdjust="spacingAndGlyphs" style="font-family:'Liberation Serif',serif">1.6245</text>
<ellipse cx="675.0" cy="582.5" rx="2.9" ry="4.8" fill="none" stroke="#444" stroke-width="1"/>
<circle cx="675.0" cy="582.5" r="1.1" fill="#555"/>
<text transform="translate(688.1,619.2) rotate(-90)" font-size="9.2" fill="#222" textLength="44.5" lengthAdjust="spacingAndGlyphs" style="font-family:'Liberation Serif',serif">1.6027</text>
<ellipse cx="685.0" cy="568.2" rx="2.9" ry="4.8" fill="none" stroke="#444" stroke-width="1"/>
<circle cx="685.0" cy="568.2" r="1.1" fill="#555"/>
<text transform="translate(725.5,624.0) rotate(-90)" font-size="9.2" fill="#222" textLength="40.0" lengthAdjust="spacingAndGlyphs" style="font-family:'Liberation Serif',serif">1.5238</text>
<ellipse cx="722.4" cy="577.5" rx="2.9" ry="4.8" fill="none" stroke="#444" stroke-width="1"/>
<circle cx="722.4" cy="577.5" r="1.1" fill="#555"/>
<text transform="translate(733.1,632.7) rotate(-90)" font-size="9.2" fill="#222" textLength="41.1" lengthAdjust="spacingAndGlyphs" style="font-family:'Liberation Serif',serif">1.5088</text>
<ellipse cx="730.0" cy="585.1" rx="2.9" ry="4.8" fill="none" stroke="#444" stroke-width="1"/>
<circle cx="730.0" cy="585.1" r="1.1" fill="#555"/>
<text transform="translate(752.5,636.9) rotate(-90)" font-size="9.2" fill="#222" textLength="41.9" lengthAdjust="spacingAndGlyphs" style="font-family:'Liberation Serif',serif">1.4733</text>
<ellipse cx="749.4" cy="588.5" rx="2.9" ry="4.8" fill="none" stroke="#444" stroke-width="1"/>
<circle cx="749.4" cy="588.5" r="1.1" fill="#555"/>
<text transform="translate(771.1,625.0) rotate(-90)" font-size="9.2" fill="#222" textLength="43.5" lengthAdjust="spacingAndGlyphs" style="font-family:'Liberation Serif',serif">1.4395</text>
<ellipse cx="768.0" cy="575.0" rx="2.9" ry="4.8" fill="none" stroke="#444" stroke-width="1"/>
<circle cx="768.0" cy="575.0" r="1.1" fill="#555"/>
<text transform="translate(782.0,631.8) rotate(-90)" font-size="9.2" fill="#222" textLength="41.8" lengthAdjust="spacingAndGlyphs" style="font-family:'Liberation Serif',serif">1.4203</text>
<ellipse cx="778.9" cy="583.5" rx="2.9" ry="4.8" fill="none" stroke="#444" stroke-width="1"/>
<circle cx="778.9" cy="583.5" r="1.1" fill="#555"/>
<text transform="translate(822.1,640.0) rotate(-90)" font-size="9.2" fill="#222" textLength="43.5" lengthAdjust="spacingAndGlyphs" style="font-family:'Liberation Serif',serif">1.3552</text>
<ellipse cx="819.0" cy="590.0" rx="2.9" ry="4.8" fill="none" stroke="#444" stroke-width="1"/>
<circle cx="819.0" cy="590.0" r="1.1" fill="#555"/>
<text transform="translate(833.1,639.4) rotate(-90)" font-size="9.2" fill="#222" textLength="42.9" lengthAdjust="spacingAndGlyphs" style="font-family:'Liberation Serif',serif">1.3383</text>
<ellipse cx="830.0" cy="590.0" rx="2.9" ry="4.8" fill="none" stroke="#444" stroke-width="1"/>
<circle cx="830.0" cy="590.0" r="1.1" fill="#555"/>
<text transform="translate(864.3,637.0) rotate(-90)" font-size="9.2" fill="#222" textLength="44.0" lengthAdjust="spacingAndGlyphs" style="font-family:'Liberation Serif',serif">1.2950</text>
<ellipse cx="861.2" cy="586.5" rx="2.9" ry="4.8" fill="none" stroke="#444" stroke-width="1"/>
<circle cx="861.2" cy="586.5" r="1.1" fill="#555"/>
<text transform="translate(902.8,639.4) rotate(-90)" font-size="9.2" fill="#222" textLength="42.0" lengthAdjust="spacingAndGlyphs" style="font-family:'Liberation Serif',serif">1.2462</text>
<ellipse cx="899.7" cy="590.9" rx="2.9" ry="4.8" fill="none" stroke="#444" stroke-width="1"/>
<circle cx="899.7" cy="590.9" r="1.1" fill="#555"/>
</g>
<rect x="108.6" y="39.8" width="57.8" height="29.2" fill="url(#gCal)" stroke="#e678da" stroke-width="1.6"/>
<rect x="108.6" y="99.2" width="57.8" height="28.8" fill="url(#gQua)" stroke="#12a8e6" stroke-width="1.6"/>
<text transform="translate(183.6,67.9) scale(1,1.04)" font-size="40" fill="#000" textLength="111.8" lengthAdjust="spacingAndGlyphs" style="font-family:'Liberation Serif',serif">Calcite</text>
<text transform="translate(181.3,126.6) scale(1,1.085)" font-size="40" fill="#000" textLength="106.5" lengthAdjust="spacingAndGlyphs" style="font-family:'Liberation Serif',serif">Quartz</text>
<path d="M463.8,209.5 A178.2,83.0 0 0 0 820.2,209.5 L816.5,248.5 A175.0,84.0 0 0 1 466.5,248.5 Z" fill="url(#gWall)" stroke="#e27ad6" stroke-width="1.1"/>
<path d="M463.8,209.5 A178.2,84.5 0 0 1 820.2,209.5 A178.2,83.0 0 0 1 463.8,209.5 Z" fill="url(#gTop)" stroke="#ea7ede" stroke-width="1.2"/>
<linearGradient id="gBlkR" x1="570" y1="0" x2="582" y2="0" gradientUnits="userSpaceOnUse"><stop offset="0" stop-color="#1c92cc"/><stop offset="0.35" stop-color="#22a2da"/><stop offset="0.7" stop-color="#1888c2"/><stop offset="1" stop-color="#1c94ce"/></linearGradient>
<linearGradient id="gStrip" x1="641" y1="198" x2="561" y2="300" gradientUnits="userSpaceOnUse"><stop offset="0" stop-color="#ec8ade"/><stop offset="0.09" stop-color="#e690dc"/><stop offset="0.13" stop-color="#3aa8e6"/><stop offset="1" stop-color="#1eb0ec"/></linearGradient>
<path d="M641.2,198.4 L631.3,214.7 L620.5,229.4 L610.7,244.2 L605.5,250 L600.5,258.4 L593.8,266.8 L587.9,275.3 L582.8,283.7 L581.1,288.5 L569.7,302.3 L560.9,299.7 L565.1,292.1 L571.8,283.7 L578.6,275.3 L585.3,266.8 L592.9,258.4 L598.8,250 L604.8,244.2 L616,229.4 L627.9,214.7 L641.2,198.4 Z" fill="url(#gStrip)"/>
<path d="M560.9,299.7 L569.7,302.3 L570,343.4 L562.7,341 Z" fill="#1682bc"/>
<path d="M569.7,302.3 L581.1,288.5 L581.4,329 L570,343.4 Z" fill="url(#gBlkR)"/>
<rect x="671.2" y="172.6" width="133" height="55" fill="#fff" stroke="#3c3c48" stroke-width="1.8"/>
<rect x="672" y="227.2" width="133" height="1.6" fill="#555" opacity="0.6"/>
<text transform="translate(692,211.7) scale(1,1.11)" font-size="30" fill="#151515" textLength="91.7" lengthAdjust="spacingAndGlyphs" style="font-family:'Liberation Serif',serif">99.22%</text>
<rect x="508.6" y="352.4" width="116.8" height="52.6" fill="#fff" stroke="#6a6a6a" stroke-width="2.2"/>
<rect x="509" y="404" width="117" height="2" fill="#888" opacity="0.8"/>
<text transform="translate(528.3,390.3) scale(1,1.11)" font-size="29.5" fill="#151515" textLength="76" lengthAdjust="spacingAndGlyphs" style="font-family:'Liberation Serif',serif">0.78%</text>
<rect x="800.4" y="7" width="139.8" height="25.2" fill="#fff" stroke="#333" stroke-width="1.6"/>
<text x="802.2" y="26.2" font-size="19.5" fill="#444" textLength="136.5" lengthAdjust="spacingAndGlyphs" filter="url(#tb)" style="font-family:'Liberation Serif',serif">6-9-(ZNDX-ZFP-HY).raw</text>
<rect x="816.5" y="42" width="124" height="63.4" fill="#fff"/>
<rect x="815.5" y="40.6" width="125.5" height="2.8" fill="#1a1a1a"/>
<rect x="815.5" y="104.4" width="125.5" height="2" fill="#111"/>
<rect x="814.8" y="41" width="2.6" height="65.5" fill="#8a8a8a"/>
<g filter="url(#tb)">
<circle cx="821.8" cy="57" r="1.5" fill="none" stroke="#777" stroke-width="0.8"/>
<g fill="none" stroke="#6a6a6a" stroke-width="0.9"><polyline points="829.0,51.9 837.5,51.9"/><polyline points="832.8,51.9 829.5,60.7"/><polyline points="831.8,56.1 836.9,56.1 836.9,60.9 831.8,60.9 831.8,56.1"/></g>
<g fill="none" stroke="#6a6a6a" stroke-width="0.9"><polyline points="840.5,52.5 849.0,52.5"/><polyline points="842.9,51.1 842.9,54.1"/><polyline points="846.6,51.1 846.6,54.1"/><polyline points="842.1,54.8 847.4,54.8 847.4,57.5 842.1,57.5 842.1,54.8"/><polyline points="844.8,53.9 844.8,57.5"/><polyline points="840.5,57.7 849.0,57.7"/><polyline points="844.8,57.7 841.0,61.2"/><polyline points="844.8,57.7 849.0,61.2"/></g>
<text x="849.5" y="61.5" font-size="13" fill="#555" textLength="37" lengthAdjust="spacingAndGlyphs" style="font-family:'Liberation Serif',serif">--0.78%</text>
<circle cx="821.8" cy="73" r="1.5" fill="none" stroke="#777" stroke-width="0.8"/>
<g fill="none" stroke="#6a6a6a" stroke-width="0.9"><polyline points="829.2,67.0 829.2,68.4"/><polyline points="825.0,69.3 833.5,69.3"/><polyline points="828.3,69.3 827.4,73.6 825.5,77.5"/><polyline points="827.8,71.9 832.1,71.9 831.6,77.0 830.2,77.2"/></g>
<g fill="none" stroke="#5a6a60" stroke-width="0.9"><polyline points="838.2,67.4 836.6,69.6"/><polyline points="836.8,69.3 840.1,69.3"/><polyline points="836.6,70.2 840.5,70.2 840.5,77.2 836.6,77.2 836.6,70.2"/><polyline points="836.6,72.5 840.5,72.5"/><polyline points="836.6,74.7 840.5,74.7"/><polyline points="838.5,70.2 838.5,77.2"/><polyline points="841.5,67.9 845.6,67.9 845.4,71.3"/><polyline points="843.4,67.9 842.1,71.9"/><polyline points="841.5,73.6 846.0,73.6"/><polyline points="841.9,75.6 846.0,75.6"/><polyline points="843.8,71.9 843.8,77.9"/></g>
<g fill="none" stroke="#6a6a6a" stroke-width="0.9"><polyline points="848.5,68.2 857.0,68.2"/><polyline points="852.3,68.2 849.0,77.0"/><polyline points="851.3,72.5 856.4,72.5 856.4,77.2 851.3,77.2 851.3,72.5"/></g>
<text x="858" y="78" font-size="13" fill="#333" textLength="43" lengthAdjust="spacingAndGlyphs" style="font-family:'Liberation Serif',serif">--99.22%</text>
<g fill="none" stroke="#666" stroke-width="1.0"><polyline points="823.5,83.7 824.4,85.4"/><polyline points="822.6,87.4 828.9,87.4 828.5,95.7 827.1,95.3"/><polyline points="825.8,83.3 825.3,90.2 822.6,95.7"/><polyline points="825.8,90.2 826.7,92.0"/></g>
<g fill="none" stroke="#666" stroke-width="1.0"><polyline points="832.9,83.7 833.8,85.1"/><polyline points="832.0,87.4 833.8,87.4 833.8,94.3 834.7,92.9"/><polyline points="835.2,88.1 840.1,88.1"/><polyline points="837.7,83.3 837.7,96.1"/></g>
<g fill="none" stroke="#666" stroke-width="1.0"><polyline points="843.7,82.9 842.8,84.7"/><polyline points="843.2,84.0 845.7,84.0"/><polyline points="847.8,82.9 846.9,84.7"/><polyline points="847.3,84.0 850.2,84.0"/><polyline points="843.7,85.6 849.1,85.6 849.1,91.2 843.7,91.2 843.7,85.6"/><polyline points="843.7,87.4 849.1,87.4"/><polyline points="843.7,89.2 849.1,89.2"/><polyline points="842.4,92.5 850.4,92.5"/><polyline points="845.0,91.2 844.6,96.1"/><polyline points="847.8,91.2 847.8,96.1"/></g>
<g fill="none" stroke="#666" stroke-width="1.0"><polyline points="855.6,83.3 855.6,96.1"/><polyline points="857.8,83.3 857.8,96.1"/><polyline points="852.9,86.0 855.6,86.0"/><polyline points="853.1,89.5 855.6,89.5"/><polyline points="852.6,93.4 855.6,92.3"/><polyline points="857.8,86.0 860.5,86.0"/><polyline points="857.8,89.5 860.3,89.5"/><polyline points="857.8,92.9 860.7,92.9"/></g>
<g fill="none" stroke="#666" stroke-width="1.0"><polyline points="865.2,83.2 868.8,83.2 868.8,88.4 865.2,88.4 865.2,83.2"/><polyline points="865.2,85.8 868.8,85.8"/><polyline points="863.0,89.8 866.5,89.8 866.5,95.8 863.0,95.8 863.0,89.8"/><polyline points="863.0,92.8 866.5,92.8"/><polyline points="867.5,89.8 871.0,89.8 871.0,95.8 867.5,95.8 867.5,89.8"/><polyline points="867.5,92.8 871.0,92.8"/></g>
<g fill="none" stroke="#666" stroke-width="1.0"><polyline points="880.9,83.3 874.6,84.7 874.6,90.9 873.2,95.7"/><polyline points="874.6,86.7 880.9,86.7"/><polyline points="877.8,84.7 877.8,88.1"/><polyline points="875.9,88.8 880.4,88.8 880.4,93.6 875.9,93.6 875.9,88.8"/><polyline points="878.2,88.8 878.2,93.6"/><polyline points="877.3,93.9 875.5,96.1"/><polyline points="879.1,93.9 881.1,96.1"/></g>
<g fill="none" stroke="#666" stroke-width="1.0"><polyline points="884.4,86.0 890.7,86.0"/><polyline points="883.5,88.8 891.6,88.8"/><polyline points="887.6,83.0 887.6,96.1"/><polyline points="887.6,88.8 883.8,95.0"/><polyline points="887.6,88.8 891.6,95.0"/></g>
<g fill="none" stroke="#666" stroke-width="1.0"><polyline points="895.2,83.3 894.3,86.7"/><polyline points="894.5,86.0 897.7,86.0"/><polyline points="893.9,89.5 897.9,89.5"/><polyline points="896.1,84.0 896.1,89.5 894.1,95.7"/><polyline points="896.1,90.9 897.7,95.0"/><polyline points="898.6,86.0 901.9,86.0 901.9,94.3 898.6,94.3 898.6,86.0"/></g>
<g fill="none" stroke="#666" stroke-width="1.0"><polyline points="905.0,84.0 904.4,87.4"/><polyline points="904.4,86.7 907.5,86.7"/><polyline points="906.2,83.3 906.2,96.1"/><polyline points="904.1,91.6 907.7,90.2"/><polyline points="909.1,83.3 908.2,87.4"/><polyline points="908.6,86.0 912.2,86.0 911.8,95.7 910.9,95.0"/><polyline points="909.8,86.7 908.6,93.6"/><polyline points="910.9,86.7 909.8,94.3"/></g>
<g fill="none" stroke="#666" stroke-width="1.0"><polyline points="918.5,82.9 914.5,88.1"/><polyline points="918.5,82.9 922.5,88.1"/><polyline points="916.7,87.8 920.3,87.8"/><polyline points="916.2,89.5 920.8,89.5 919.4,91.2"/><polyline points="916.0,91.6 921.0,91.6 921.0,96.1 916.0,96.1 916.0,91.6"/></g>
<g fill="none" stroke="#666" stroke-width="1.0"><polyline points="926.5,82.9 931.0,82.9 931.0,86.7 926.5,86.7 926.5,82.9"/><polyline points="926.5,84.8 931.0,84.8"/><polyline points="924.8,87.8 932.8,87.8"/><polyline points="926.1,88.9 931.5,88.9 931.5,93.4 926.1,93.4 926.1,88.9"/><polyline points="926.1,91.2 931.5,91.2"/><polyline points="928.8,88.9 928.8,95.7"/><polyline points="926.5,94.6 931.0,94.6"/><polyline points="924.8,96.0 932.8,96.0"/></g>
</g>
</svg>
</body></html>
